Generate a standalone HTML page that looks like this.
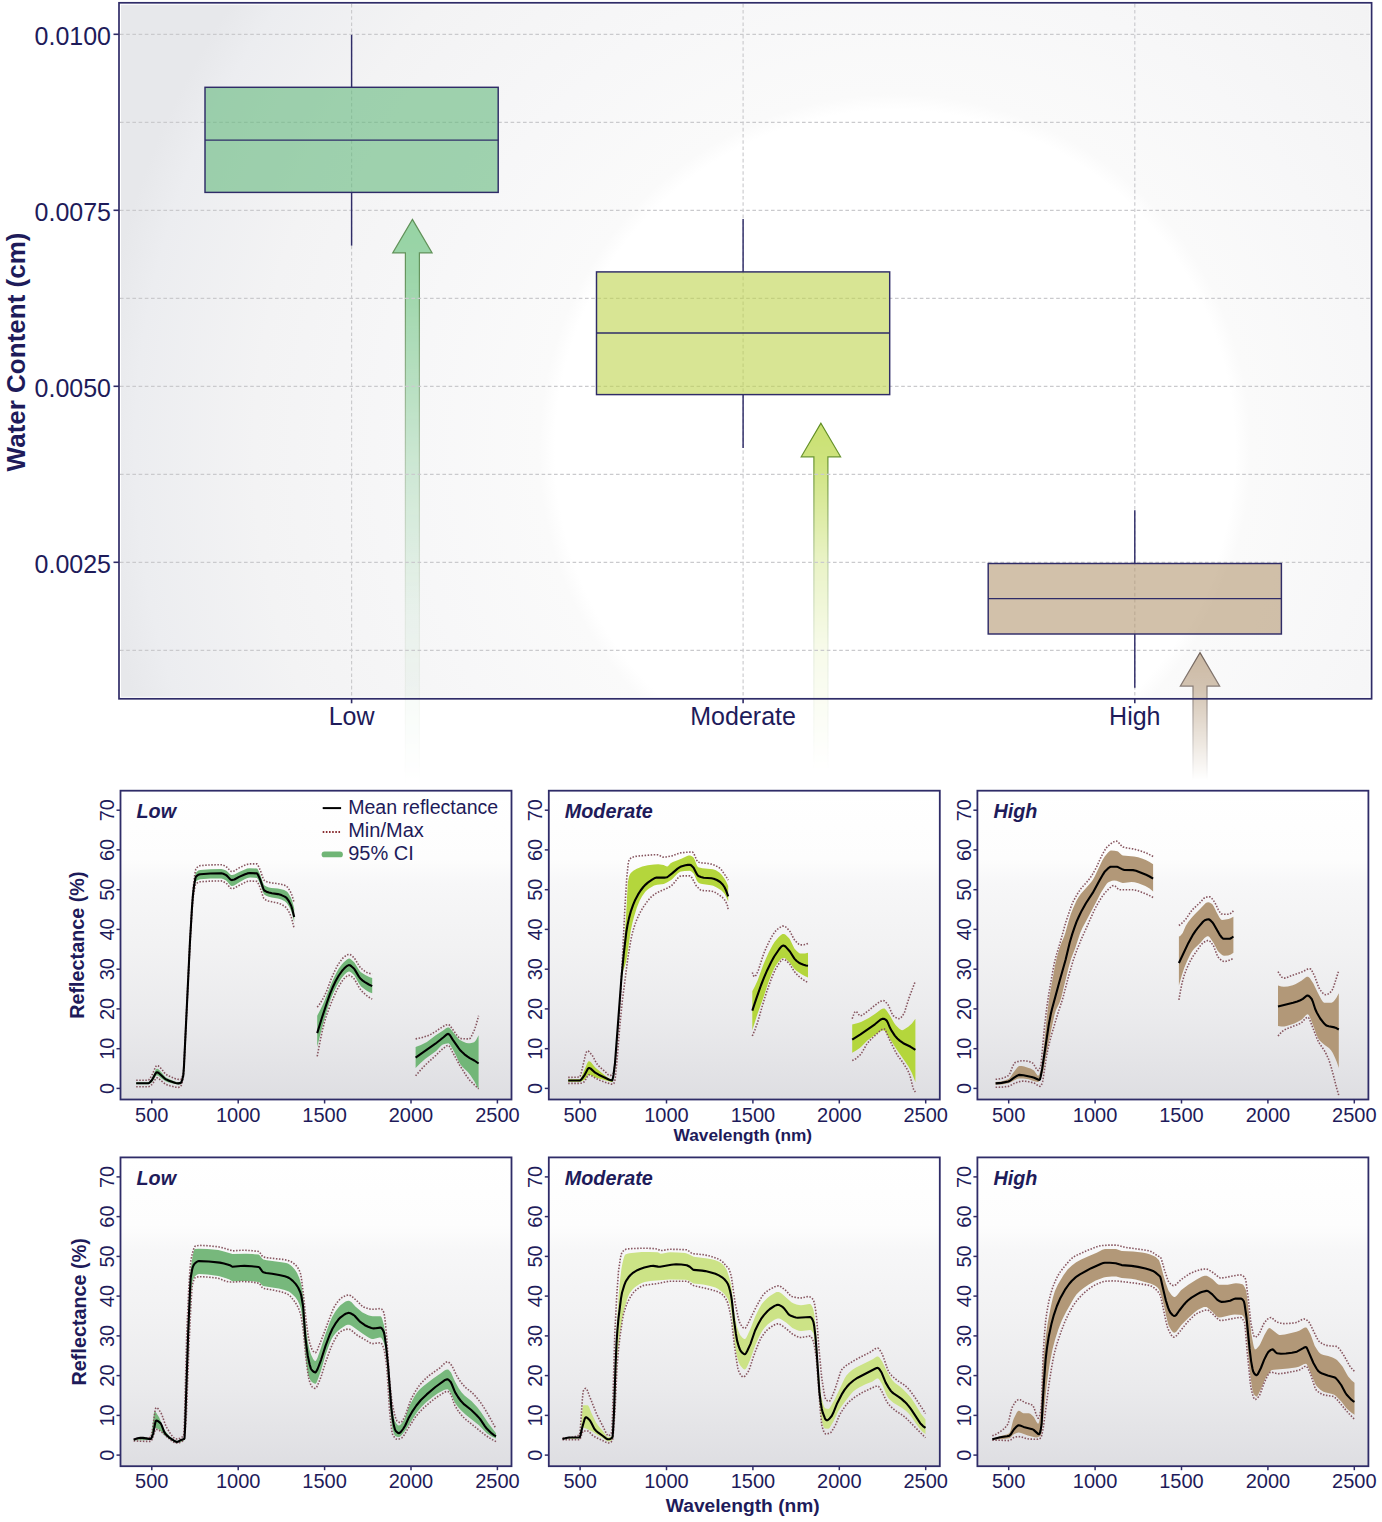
<!DOCTYPE html>
<html><head><meta charset="utf-8"><style>
html,body{margin:0;padding:0;background:#fff;}
svg{display:block;font-family:"Liberation Sans", sans-serif;}
</style></head><body>
<svg width="1382" height="1522" viewBox="0 0 1382 1522">
<defs>
<radialGradient id="bgTop" gradientUnits="userSpaceOnUse" cx="895" cy="450" r="800">
  <stop offset="0" stop-color="#ffffff"/>
  <stop offset="0.425" stop-color="#ffffff"/>
  <stop offset="0.445" stop-color="#fafafa"/>
  <stop offset="0.6" stop-color="#f7f7f8"/>
  <stop offset="0.8" stop-color="#f3f3f4"/>
  <stop offset="0.95" stop-color="#ecedf0"/>
  <stop offset="1" stop-color="#e7e8eb"/>
</radialGradient>
<linearGradient id="bgBot" x1="0" y1="0" x2="0" y2="1">
  <stop offset="0" stop-color="#ffffff"/>
  <stop offset="0.22" stop-color="#fdfdfd"/>
  <stop offset="0.30" stop-color="#f7f7f8"/>
  <stop offset="0.5" stop-color="#f2f2f3"/>
  <stop offset="0.75" stop-color="#eaeaec"/>
  <stop offset="1" stop-color="#dedee2"/>
</linearGradient>
<linearGradient id="fadeG" gradientUnits="userSpaceOnUse" x1="0" y1="215" x2="0" y2="785">
  <stop offset="0" stop-color="#fff" stop-opacity="1"/>
  <stop offset="0.1" stop-color="#fff" stop-opacity="0.95"/>
  <stop offset="0.45" stop-color="#fff" stop-opacity="0.42"/>
  <stop offset="0.7" stop-color="#fff" stop-opacity="0.14"/>
  <stop offset="1" stop-color="#fff" stop-opacity="0"/>
</linearGradient>
<mask id="fadeM" maskUnits="userSpaceOnUse" x="0" y="0" width="1382" height="800">
  <rect x="0" y="215" width="1382" height="570" fill="url(#fadeG)"/>
</mask>
<linearGradient id="fadeY" gradientUnits="userSpaceOnUse" x1="0" y1="420" x2="0" y2="770">
  <stop offset="0" stop-color="#fff" stop-opacity="1"/>
  <stop offset="0.12" stop-color="#fff" stop-opacity="0.9"/>
  <stop offset="0.4" stop-color="#fff" stop-opacity="0.4"/>
  <stop offset="0.65" stop-color="#fff" stop-opacity="0.15"/>
  <stop offset="1" stop-color="#fff" stop-opacity="0"/>
</linearGradient>
<mask id="fadeMY" maskUnits="userSpaceOnUse" x="0" y="0" width="1382" height="800">
  <rect x="0" y="420" width="1382" height="350" fill="url(#fadeY)"/>
</mask>
<linearGradient id="fadeB" gradientUnits="userSpaceOnUse" x1="0" y1="650" x2="0" y2="780">
  <stop offset="0" stop-color="#fff" stop-opacity="1"/>
  <stop offset="0.3" stop-color="#fff" stop-opacity="0.8"/>
  <stop offset="1" stop-color="#fff" stop-opacity="0"/>
</linearGradient>
<mask id="fadeMB" maskUnits="userSpaceOnUse" x="0" y="0" width="1382" height="800">
  <rect x="0" y="650" width="1382" height="130" fill="url(#fadeB)"/>
</mask>
<clipPath id="clipTop"><rect x="121.0" y="4.8" width="1248.6" height="692.0"/></clipPath><clipPath id="clip00"><rect x="120.5" y="790.7" width="391.0" height="308.8"/></clipPath><clipPath id="clip01"><rect x="548.8" y="790.7" width="391.0" height="308.8"/></clipPath><clipPath id="clip02"><rect x="977.4" y="790.7" width="391.0" height="308.8"/></clipPath><clipPath id="clip10"><rect x="120.5" y="1157.4" width="391.0" height="308.8"/></clipPath><clipPath id="clip11"><rect x="548.8" y="1157.4" width="391.0" height="308.8"/></clipPath><clipPath id="clip12"><rect x="977.4" y="1157.4" width="391.0" height="308.8"/></clipPath></defs>
<rect width="1382" height="1522" fill="#fff"/>
<rect x="121.0" y="4.8" width="1248.6" height="692.0" fill="url(#bgTop)"/>
<g mask="url(#fadeM)"><path d="M412.4,219.4 L432.09999999999997,252.9 L419.4,252.9 L419.4,800 L405.4,800 L405.4,252.9 L392.7,252.9 Z" fill="#96d3a4" stroke="#5d8f55" stroke-width="1.2" stroke-linejoin="miter"/></g>
<g mask="url(#fadeMY)"><path d="M820.9,423.3 L840.6,456.8 L827.9,456.8 L827.9,800 L813.9,800 L813.9,456.8 L801.1999999999999,456.8 Z" fill="#c9e070" stroke="#5b8a1c" stroke-width="1.2" stroke-linejoin="miter"/></g>
<g mask="url(#fadeMB)"><path d="M1200.0,652.6 L1219.7,686.1 L1207.0,686.1 L1207.0,800 L1193.0,800 L1193.0,686.1 L1180.3,686.1 Z" fill="#c9b6a0" stroke="#6e6058" stroke-width="1.2" stroke-linejoin="miter"/></g>
<line x1="120.0" y1="34.3" x2="1370.6" y2="34.3" stroke="#cacacd" stroke-width="1.15" stroke-dasharray="3.6 2.6"/>
<line x1="120.0" y1="122.3" x2="1370.6" y2="122.3" stroke="#cacacd" stroke-width="1.15" stroke-dasharray="3.6 2.6"/>
<line x1="120.0" y1="210.3" x2="1370.6" y2="210.3" stroke="#cacacd" stroke-width="1.15" stroke-dasharray="3.6 2.6"/>
<line x1="120.0" y1="298.3" x2="1370.6" y2="298.3" stroke="#cacacd" stroke-width="1.15" stroke-dasharray="3.6 2.6"/>
<line x1="120.0" y1="386.3" x2="1370.6" y2="386.3" stroke="#cacacd" stroke-width="1.15" stroke-dasharray="3.6 2.6"/>
<line x1="120.0" y1="474.3" x2="1370.6" y2="474.3" stroke="#cacacd" stroke-width="1.15" stroke-dasharray="3.6 2.6"/>
<line x1="120.0" y1="562.3" x2="1370.6" y2="562.3" stroke="#cacacd" stroke-width="1.15" stroke-dasharray="3.6 2.6"/>
<line x1="120.0" y1="650.3" x2="1370.6" y2="650.3" stroke="#cacacd" stroke-width="1.15" stroke-dasharray="3.6 2.6"/>
<line x1="351.6" y1="3.8" x2="351.6" y2="697.8" stroke="#cacacd" stroke-width="1.15" stroke-dasharray="3.6 2.6"/>
<line x1="743.1" y1="3.8" x2="743.1" y2="697.8" stroke="#cacacd" stroke-width="1.15" stroke-dasharray="3.6 2.6"/>
<line x1="1134.8" y1="3.8" x2="1134.8" y2="697.8" stroke="#cacacd" stroke-width="1.15" stroke-dasharray="3.6 2.6"/>
<line x1="351.6" y1="34.8" x2="351.6" y2="87.3" stroke="#2f2c68" stroke-width="1.45"/>
<line x1="351.6" y1="192.4" x2="351.6" y2="245.6" stroke="#2f2c68" stroke-width="1.45"/>
<rect x="205.00000000000003" y="87.3" width="293.2" height="105.10000000000001" fill="#64b97d" fill-opacity="0.6" stroke="#2f2c68" stroke-width="1.45"/>
<line x1="205.00000000000003" y1="140.1" x2="498.20000000000005" y2="140.1" stroke="#2f2c68" stroke-width="1.45"/>
<line x1="743.1" y1="219.1" x2="743.1" y2="271.9" stroke="#2f2c68" stroke-width="1.45"/>
<line x1="743.1" y1="394.6" x2="743.1" y2="447.9" stroke="#2f2c68" stroke-width="1.45"/>
<rect x="596.5" y="271.9" width="293.2" height="122.70000000000005" fill="#bed44d" fill-opacity="0.6" stroke="#2f2c68" stroke-width="1.45"/>
<line x1="596.5" y1="333.0" x2="889.7" y2="333.0" stroke="#2f2c68" stroke-width="1.45"/>
<line x1="1134.8" y1="510.3" x2="1134.8" y2="563.5" stroke="#2f2c68" stroke-width="1.45"/>
<line x1="1134.8" y1="634.0" x2="1134.8" y2="687.7" stroke="#2f2c68" stroke-width="1.45"/>
<rect x="988.1999999999999" y="563.5" width="293.2" height="70.5" fill="#b49871" fill-opacity="0.6" stroke="#2f2c68" stroke-width="1.45"/>
<line x1="988.1999999999999" y1="598.6" x2="1281.3999999999999" y2="598.6" stroke="#2f2c68" stroke-width="1.45"/>
<rect x="119.0" y="2.8" width="1252.6" height="696.0" fill="none" stroke="#2f2c68" stroke-width="1.7"/>
<line x1="113.5" y1="34.3" x2="119.0" y2="34.3" stroke="#2f2c68" stroke-width="1.6"/>
<text x="111.0" y="45.3" text-anchor="end" font-size="25" fill="#1e1b5a">0.0100</text>
<line x1="113.5" y1="210.3" x2="119.0" y2="210.3" stroke="#2f2c68" stroke-width="1.6"/>
<text x="111.0" y="221.3" text-anchor="end" font-size="25" fill="#1e1b5a">0.0075</text>
<line x1="113.5" y1="386.3" x2="119.0" y2="386.3" stroke="#2f2c68" stroke-width="1.6"/>
<text x="111.0" y="397.3" text-anchor="end" font-size="25" fill="#1e1b5a">0.0050</text>
<line x1="113.5" y1="562.3" x2="119.0" y2="562.3" stroke="#2f2c68" stroke-width="1.6"/>
<text x="111.0" y="573.3" text-anchor="end" font-size="25" fill="#1e1b5a">0.0025</text>
<line x1="351.6" y1="698.8" x2="351.6" y2="703.3" stroke="#2f2c68" stroke-width="1.6"/>
<text x="351.6" y="724.6" text-anchor="middle" font-size="25" fill="#1e1b5a">Low</text>
<line x1="743.1" y1="698.8" x2="743.1" y2="703.3" stroke="#2f2c68" stroke-width="1.6"/>
<text x="743.1" y="724.6" text-anchor="middle" font-size="25" fill="#1e1b5a">Moderate</text>
<line x1="1134.8" y1="698.8" x2="1134.8" y2="703.3" stroke="#2f2c68" stroke-width="1.6"/>
<text x="1134.8" y="724.6" text-anchor="middle" font-size="25" fill="#1e1b5a">High</text>
<text transform="translate(24.7 352) rotate(-90)" text-anchor="middle" font-size="26" font-weight="bold" fill="#1e1b5a">Water Content (cm)</text>
<rect x="120.5" y="790.7" width="391.0" height="308.8" fill="url(#bgBot)"/>
<g clip-path="url(#clip00)">
<path d="M136.2,1082.2 148.2,1082.2 149.0,1081.9 150.0,1080.9 152.2,1077.7 155.5,1070.3 156.2,1069.2 157.0,1068.7 158.0,1069.0 159.0,1069.8 162.2,1073.3 164.7,1076.3 166.0,1077.4 169.0,1079.1 174.8,1081.4 176.5,1082.0 177.8,1082.2 180.5,1081.8 181.3,1081.1 182.3,1078.5 183.3,1074.3 184.0,1064.9 190.0,939.7 192.3,901.8 193.3,889.7 194.5,879.4 195.5,873.8 195.8,873.1 196.5,872.1 198.3,870.6 200.3,869.9 210.3,869.2 221.3,869.0 223.3,869.5 226.1,870.6 227.3,871.5 230.3,874.4 231.4,874.9 232.1,875.0 234.4,874.4 239.1,871.9 244.9,869.4 247.1,868.6 249.6,868.2 256.9,868.4 257.4,868.8 258.1,870.0 260.4,875.0 262.9,882.6 264.2,885.2 266.4,886.6 268.9,887.5 271.4,888.0 277.7,888.6 281.2,889.2 284.2,890.1 286.4,891.2 287.4,892.1 288.7,893.8 291.2,898.2 292.4,901.8 294.2,908.3 L294.2,922.0 292.4,914.8 291.2,910.9 288.9,906.2 286.9,903.2 285.9,902.2 284.7,901.3 281.2,899.6 277.9,898.6 271.7,897.5 268.7,896.8 266.2,895.8 264.2,894.6 262.9,892.1 260.4,884.6 258.1,879.6 257.4,878.4 256.9,878.0 254.4,877.7 250.1,877.6 247.6,878.0 244.6,879.3 238.6,882.7 234.6,885.3 233.4,885.8 232.1,886.1 231.4,886.0 230.3,885.3 227.1,881.5 226.1,880.6 223.1,879.0 221.3,878.4 210.6,878.6 200.3,879.3 198.0,879.9 196.0,881.2 195.5,882.0 195.0,883.8 193.5,892.7 192.8,899.4 192.0,909.2 189.8,947.2 184.0,1066.9 183.3,1076.3 182.0,1081.6 181.3,1083.5 180.5,1084.2 178.0,1084.6 175.0,1084.1 168.8,1082.4 165.7,1081.3 161.2,1078.3 158.5,1075.8 157.7,1075.4 157.0,1075.2 156.2,1075.6 155.5,1076.4 152.5,1081.5 150.5,1083.2 149.2,1084.0 148.2,1084.2 136.2,1084.2 Z" fill="#72b678" stroke="none"/>
<path d="M317.2,1015.8 320.7,1009.1 324.2,1001.6 331.0,984.3 334.5,976.4 336.8,971.9 338.8,968.5 341.8,964.4 343.8,962.3 347.3,959.3 348.3,958.7 349.1,958.6 350.1,958.8 351.1,959.5 354.4,962.6 358.9,969.7 360.6,971.9 362.9,973.6 365.7,975.3 369.2,977.0 372.2,978.1 L372.2,993.3 369.4,992.2 366.4,990.5 363.7,988.6 361.1,986.4 359.1,983.8 354.4,975.6 353.4,974.5 350.9,972.3 349.3,971.6 348.1,971.8 346.8,972.6 344.3,974.8 341.3,978.6 337.0,985.5 333.8,991.9 330.8,999.1 328.0,1007.3 323.7,1021.7 320.5,1033.7 317.2,1046.9 Z" fill="#72b678" stroke="none"/>
<path d="M415.6,1046.9 420.9,1044.9 426.9,1041.9 435.4,1035.6 443.5,1030.3 446.0,1028.3 447.7,1027.4 449.0,1027.6 450.2,1028.6 457.8,1038.0 459.5,1039.8 462.8,1041.6 466.3,1042.9 468.3,1043.3 470.1,1043.3 472.3,1042.8 474.1,1042.2 475.1,1041.3 476.1,1040.0 478.6,1035.3 L478.6,1089.6 474.6,1081.8 470.6,1075.5 467.8,1072.1 462.3,1066.7 460.0,1063.8 458.3,1060.6 454.5,1052.6 451.0,1046.2 449.7,1044.3 448.5,1043.3 447.2,1043.4 445.5,1043.7 443.0,1044.6 442.0,1045.1 440.4,1046.5 436.2,1051.1 425.1,1059.0 420.6,1063.0 415.6,1067.9 Z" fill="#72b678" stroke="none"/>
<path d="M136.2,1080.2 148.2,1080.2 148.7,1080.0 150.0,1078.6 152.5,1074.1 155.7,1066.6 156.5,1065.6 157.0,1065.4 158.2,1065.8 159.5,1066.9 162.0,1069.5 164.7,1073.2 166.0,1074.4 168.8,1076.0 175.3,1078.7 177.5,1079.3 180.8,1079.5 181.3,1079.1 181.8,1078.2 182.8,1075.3 183.3,1073.3 183.5,1071.3 184.0,1064.2 190.0,938.5 192.3,899.8 193.3,887.2 194.8,874.2 195.8,869.1 196.8,867.7 198.5,866.2 200.3,865.6 210.3,864.9 221.3,864.7 223.3,865.2 226.1,866.5 227.3,867.6 230.3,870.9 231.4,871.5 232.1,871.6 234.1,871.0 239.1,867.9 244.6,865.3 246.9,864.4 249.6,863.9 256.9,863.9 257.4,864.3 258.1,865.5 260.4,870.5 262.9,877.9 263.7,879.6 264.2,880.3 266.2,881.5 268.7,882.3 271.4,882.9 277.7,883.6 281.2,884.3 284.2,885.1 286.4,886.2 287.4,887.1 288.7,888.8 291.2,893.2 292.4,896.7 294.2,902.9" fill="none" stroke="#86555f" stroke-width="1.6" stroke-dasharray="1.5 1.55"/>
<path d="M136.2,1086.7 148.2,1086.7 149.2,1086.5 150.5,1085.7 152.5,1084.0 155.5,1079.0 156.2,1078.1 157.0,1077.8 157.7,1078.0 158.7,1078.6 161.2,1080.8 165.5,1084.2 167.5,1085.1 170.0,1085.8 175.8,1087.2 178.5,1087.4 179.5,1087.1 180.8,1086.4 181.8,1084.2 183.3,1077.2 184.0,1067.6 189.8,948.4 192.0,911.2 192.8,901.7 193.5,895.2 195.0,886.3 195.5,884.5 196.0,883.7 198.0,882.4 200.3,881.8 210.6,881.1 221.3,880.9 223.1,881.5 226.1,883.1 227.3,884.3 230.3,887.9 231.4,888.6 232.1,888.7 233.4,888.5 234.6,888.0 238.6,885.7 244.6,882.6 247.6,881.3 250.4,881.0 256.9,881.4 257.4,881.9 258.1,883.1 260.4,888.3 262.9,896.2 263.7,898.1 264.2,898.9 265.9,900.0 268.2,900.9 271.7,901.8 277.7,903.0 280.4,903.9 283.9,905.8 285.7,907.2 286.7,908.2 288.9,911.8 291.2,916.9 292.4,921.2 294.2,928.8" fill="none" stroke="#86555f" stroke-width="1.6" stroke-dasharray="1.5 1.55"/>
<path d="M317.2,1007.1 319.0,1005.1 320.7,1002.6 324.7,995.5 326.5,991.5 331.3,978.7 335.0,970.4 337.5,965.5 340.1,961.6 342.6,958.4 344.3,956.8 346.8,955.1 348.1,954.5 349.1,954.3 350.1,954.5 351.4,955.3 354.4,958.0 359.4,966.3 360.4,967.6 362.2,969.2 364.7,971.2 366.9,972.5 369.9,973.5 372.2,973.8" fill="none" stroke="#86555f" stroke-width="1.6" stroke-dasharray="1.5 1.55"/>
<path d="M317.2,1056.3 320.0,1041.5 322.5,1029.9 324.7,1021.2 327.2,1013.3 331.5,1002.2 336.3,991.2 338.3,987.4 340.8,983.1 342.6,980.4 344.1,978.6 346.8,976.2 348.3,975.4 349.1,975.3 349.8,975.4 351.4,976.3 353.6,978.2 354.6,979.4 359.4,988.0 361.4,990.7 363.7,993.0 366.4,995.3 369.4,997.5 372.2,999.1" fill="none" stroke="#86555f" stroke-width="1.6" stroke-dasharray="1.5 1.55"/>
<path d="M415.6,1038.9 421.4,1037.8 427.9,1035.7 431.2,1034.1 436.2,1031.1 442.5,1026.8 446.2,1024.9 448.2,1024.5 449.0,1024.8 450.0,1025.7 457.3,1035.9 459.3,1038.0 460.3,1038.5 461.5,1038.6 466.6,1038.9 469.6,1038.8 470.3,1038.2 471.3,1036.6 474.3,1030.1 476.3,1024.2 478.6,1015.8" fill="none" stroke="#86555f" stroke-width="1.6" stroke-dasharray="1.5 1.55"/>
<path d="M415.6,1075.8 420.6,1070.0 425.6,1064.7 435.9,1055.3 441.2,1050.1 446.2,1046.1 447.5,1045.5 448.5,1045.4 449.2,1046.0 450.2,1047.4 452.7,1052.4 459.5,1064.8 466.6,1076.2 470.1,1080.7 478.6,1088.9" fill="none" stroke="#86555f" stroke-width="1.6" stroke-dasharray="1.5 1.55"/>
<path d="M136.2,1083.2 148.2,1083.2 149.0,1083.0 150.2,1082.0 152.2,1079.7 155.5,1073.6 156.2,1072.6 157.0,1072.2 157.7,1072.4 158.7,1073.0 164.5,1078.3 166.0,1079.4 169.0,1080.8 175.5,1083.0 178.3,1083.4 180.8,1082.9 181.5,1081.8 182.3,1079.6 183.3,1075.3 184.0,1065.9 190.0,941.0 192.0,907.4 193.0,894.5 194.0,886.2 195.3,878.6 195.8,877.0 196.3,876.4 198.3,874.8 200.3,874.2 210.3,873.5 221.3,873.3 223.3,873.8 226.1,875.1 227.3,876.1 230.3,879.4 231.4,880.0 232.1,880.1 234.4,879.5 239.1,876.9 245.1,874.2 247.4,873.4 250.1,873.0 256.9,873.4 257.4,873.8 258.1,875.0 260.1,879.4 263.2,888.4 263.9,889.9 264.4,890.5 266.4,891.7 268.9,892.5 271.9,893.2 277.9,894.1 281.4,895.1 284.7,896.6 285.9,897.4 286.9,898.3 288.9,901.2 291.2,905.8 292.4,909.8 294.2,916.9" fill="none" stroke="#000" stroke-width="2.1" stroke-linejoin="round"/>
<path d="M317.2,1033.1 321.7,1018.5 327.2,1001.8 330.0,993.9 332.5,987.8 335.8,980.8 338.8,975.5 342.6,970.2 344.1,968.6 346.3,966.5 347.6,965.6 348.8,965.1 349.8,965.2 351.1,966.0 353.6,968.2 354.6,969.4 358.9,976.6 360.6,978.8 362.7,980.6 364.9,982.1 368.9,984.5 372.2,986.1" fill="none" stroke="#000" stroke-width="2.1" stroke-linejoin="round"/>
<path d="M415.6,1057.7 435.4,1043.7 443.5,1037.2 446.5,1034.6 447.5,1034.0 448.2,1033.9 449.0,1034.2 450.0,1035.2 452.7,1039.6 458.3,1047.7 460.0,1050.0 461.8,1051.8 464.5,1054.3 467.6,1056.6 469.8,1058.1 474.3,1060.5 478.6,1063.5" fill="none" stroke="#000" stroke-width="2.1" stroke-linejoin="round"/>
</g>
<rect x="120.5" y="790.7" width="391.0" height="308.8" fill="none" stroke="#2f2c68" stroke-width="1.8"/>
<line x1="116.5" y1="1088.4" x2="120.5" y2="1088.4" stroke="#2f2c68" stroke-width="1.5"/>
<text transform="translate(113.7 1088.4) rotate(-90)" text-anchor="middle" font-size="20" fill="#1e1b5a">0</text>
<line x1="116.5" y1="1048.7" x2="120.5" y2="1048.7" stroke="#2f2c68" stroke-width="1.5"/>
<text transform="translate(113.7 1048.7) rotate(-90)" text-anchor="middle" font-size="20" fill="#1e1b5a">10</text>
<line x1="116.5" y1="1008.9" x2="120.5" y2="1008.9" stroke="#2f2c68" stroke-width="1.5"/>
<text transform="translate(113.7 1008.9) rotate(-90)" text-anchor="middle" font-size="20" fill="#1e1b5a">20</text>
<line x1="116.5" y1="969.2" x2="120.5" y2="969.2" stroke="#2f2c68" stroke-width="1.5"/>
<text transform="translate(113.7 969.2) rotate(-90)" text-anchor="middle" font-size="20" fill="#1e1b5a">30</text>
<line x1="116.5" y1="929.4" x2="120.5" y2="929.4" stroke="#2f2c68" stroke-width="1.5"/>
<text transform="translate(113.7 929.4) rotate(-90)" text-anchor="middle" font-size="20" fill="#1e1b5a">40</text>
<line x1="116.5" y1="889.7" x2="120.5" y2="889.7" stroke="#2f2c68" stroke-width="1.5"/>
<text transform="translate(113.7 889.7) rotate(-90)" text-anchor="middle" font-size="20" fill="#1e1b5a">50</text>
<line x1="116.5" y1="849.9" x2="120.5" y2="849.9" stroke="#2f2c68" stroke-width="1.5"/>
<text transform="translate(113.7 849.9) rotate(-90)" text-anchor="middle" font-size="20" fill="#1e1b5a">60</text>
<line x1="116.5" y1="810.2" x2="120.5" y2="810.2" stroke="#2f2c68" stroke-width="1.5"/>
<text transform="translate(113.7 810.2) rotate(-90)" text-anchor="middle" font-size="20" fill="#1e1b5a">70</text>
<line x1="151.8" y1="1099.5" x2="151.8" y2="1103.5" stroke="#2f2c68" stroke-width="1.5"/>
<text x="151.8" y="1121.7" text-anchor="middle" font-size="20" fill="#1e1b5a">500</text>
<line x1="238.2" y1="1099.5" x2="238.2" y2="1103.5" stroke="#2f2c68" stroke-width="1.5"/>
<text x="238.2" y="1121.7" text-anchor="middle" font-size="20" fill="#1e1b5a">1000</text>
<line x1="324.6" y1="1099.5" x2="324.6" y2="1103.5" stroke="#2f2c68" stroke-width="1.5"/>
<text x="324.6" y="1121.7" text-anchor="middle" font-size="20" fill="#1e1b5a">1500</text>
<line x1="411.0" y1="1099.5" x2="411.0" y2="1103.5" stroke="#2f2c68" stroke-width="1.5"/>
<text x="411.0" y="1121.7" text-anchor="middle" font-size="20" fill="#1e1b5a">2000</text>
<line x1="497.4" y1="1099.5" x2="497.4" y2="1103.5" stroke="#2f2c68" stroke-width="1.5"/>
<text x="497.4" y="1121.7" text-anchor="middle" font-size="20" fill="#1e1b5a">2500</text>
<text x="136.5" y="818.2" font-size="19.8" font-weight="bold" font-style="italic" fill="#1e1b5a">Low</text>
<text transform="translate(84.2 945.1) rotate(-90)" text-anchor="middle" font-size="19.8" font-weight="bold" fill="#1e1b5a">Reflectance (%)</text>
<rect x="548.8" y="790.7" width="391.0" height="308.8" fill="url(#bgBot)"/>
<g clip-path="url(#clip01)">
<path d="M568.2,1079.3 579.5,1079.3 580.2,1079.0 581.0,1078.0 581.7,1076.4 587.2,1063.2 588.2,1061.6 589.0,1061.2 590.0,1061.5 591.0,1062.2 595.0,1067.2 596.7,1068.8 607.8,1077.7 609.3,1078.6 610.5,1078.9 612.0,1079.0 612.3,1078.9 612.5,1078.4 613.3,1075.0 614.5,1065.8 615.5,1054.9 626.0,917.0 627.8,882.5 629.0,876.5 629.8,874.5 630.8,873.1 633.3,870.7 636.8,868.8 642.3,866.6 647.8,865.2 654.1,864.4 658.3,864.2 663.6,865.0 666.1,866.3 667.4,866.4 668.4,865.7 670.6,863.3 672.9,862.0 681.4,858.7 687.1,855.9 688.6,855.5 690.1,855.4 691.9,856.2 693.6,857.6 694.6,859.6 696.9,865.4 697.7,866.7 698.2,867.2 700.2,867.8 702.4,868.2 712.9,869.2 715.9,870.3 719.4,872.5 721.7,874.7 724.4,878.4 726.2,881.6 728.2,886.1 L728.2,901.5 726.2,896.9 724.7,894.1 723.2,892.2 721.2,890.3 716.7,887.4 713.2,885.8 710.9,885.3 702.2,884.0 699.9,883.4 698.2,882.6 696.9,880.8 694.6,875.5 693.6,873.6 691.4,871.4 689.9,870.7 684.6,871.0 681.1,871.5 680.1,871.8 677.6,873.6 671.9,879.4 666.9,882.6 663.8,883.9 657.1,884.7 654.1,885.6 651.6,886.9 649.1,888.4 647.1,889.9 645.3,891.7 642.1,896.2 639.6,900.8 636.8,907.8 634.1,916.4 632.3,923.4 630.8,930.6 627.5,953.2 626.3,960.5 625.3,964.5 623.0,971.3 621.8,976.9 620.8,986.4 619.3,1008.9 615.0,1065.3 613.5,1076.8 612.5,1081.5 612.3,1081.9 611.5,1081.9 600.0,1078.8 595.5,1077.4 590.7,1075.1 589.0,1074.8 588.2,1075.1 587.5,1075.8 584.5,1079.7 582.5,1080.8 581.0,1081.5 579.7,1081.7 568.2,1081.7 Z" fill="#b4d63c" stroke="none"/>
<path d="M752.3,991.2 754.8,986.6 757.6,980.5 763.1,965.3 766.4,957.4 768.9,952.0 772.5,945.3 774.7,941.7 778.5,937.2 781.0,934.9 782.5,934.1 784.1,934.1 785.6,934.8 787.3,936.4 789.3,938.6 790.1,939.7 794.4,948.4 796.7,951.0 798.7,952.7 799.9,953.4 800.9,953.5 805.0,953.4 808.0,952.8 L808.0,977.4 805.2,976.2 802.0,974.5 798.9,972.6 796.4,970.7 794.1,968.6 789.6,962.6 785.3,958.6 784.1,958.0 783.0,957.9 782.0,958.3 780.8,959.2 778.8,961.6 775.2,966.6 773.2,970.5 771.0,975.8 768.2,982.9 763.4,997.8 757.3,1014.5 752.3,1030.2 Z" fill="#b4d63c" stroke="none"/>
<path d="M852.2,1024.5 858.0,1023.0 861.0,1022.0 863.5,1020.8 868.8,1017.9 874.9,1014.1 880.9,1009.6 882.4,1008.8 883.7,1008.5 884.4,1008.6 884.9,1008.8 886.7,1010.8 890.2,1016.0 894.0,1022.7 895.8,1025.3 899.3,1028.8 901.3,1030.1 902.3,1030.2 903.6,1029.8 908.3,1026.7 911.9,1023.4 915.4,1018.7 L915.4,1082.3 911.9,1073.1 908.6,1066.8 902.8,1058.2 896.3,1049.0 885.9,1032.4 884.9,1031.1 883.9,1030.4 883.2,1030.2 881.9,1030.4 879.1,1031.9 867.6,1040.3 861.5,1046.4 859.8,1047.9 855.7,1050.7 852.2,1052.7 Z" fill="#b4d63c" stroke="none"/>
<path d="M568.2,1077.4 577.2,1077.2 579.5,1077.0 580.0,1076.7 581.0,1073.8 585.7,1053.9 586.5,1051.8 587.2,1050.9 588.2,1051.1 589.2,1051.9 592.2,1055.3 593.5,1057.4 596.2,1062.9 598.0,1065.2 600.3,1067.5 604.8,1071.3 608.0,1074.6 609.5,1075.4 610.8,1075.4 611.8,1074.9 613.0,1074.0 613.5,1072.9 614.8,1066.1 616.3,1053.7 620.5,996.2 625.0,905.8 626.8,877.3 628.3,862.8 628.8,860.9 630.0,858.9 631.0,857.9 632.0,857.3 635.6,856.4 640.1,855.9 653.1,854.8 657.6,854.7 658.8,855.1 662.6,857.0 663.8,857.1 666.4,856.9 672.1,855.9 678.4,853.5 680.6,852.9 687.1,852.2 692.4,852.0 693.1,852.5 693.9,853.7 696.7,860.1 697.9,862.0 698.7,862.3 700.9,862.8 708.2,863.5 711.2,864.1 714.9,865.3 718.4,867.1 720.2,868.4 721.9,870.5 726.2,876.8 728.2,880.1" fill="none" stroke="#86555f" stroke-width="1.6" stroke-dasharray="1.5 1.55"/>
<path d="M568.2,1083.4 579.7,1083.4 581.0,1083.2 582.5,1082.7 584.0,1082.0 584.7,1081.3 587.7,1075.8 588.5,1075.0 589.0,1074.8 590.0,1074.9 591.0,1075.3 595.5,1078.2 599.7,1080.2 603.3,1081.6 609.3,1083.6 611.3,1084.1 613.0,1084.2 613.8,1083.5 614.5,1082.0 615.0,1079.8 615.5,1076.0 617.0,1060.9 619.8,1026.2 622.3,1001.0 628.0,956.9 631.0,939.1 632.3,933.3 634.1,927.1 636.1,921.3 638.3,916.1 640.6,911.6 643.1,907.4 647.1,901.7 650.1,898.0 652.6,895.7 656.3,893.1 660.6,891.0 667.9,887.9 671.4,885.8 673.4,883.8 677.9,878.0 679.9,876.3 681.1,875.9 689.9,875.9 690.9,876.4 691.9,877.7 696.1,885.6 698.9,888.6 700.4,889.9 701.4,890.3 702.4,890.5 710.7,891.0 713.4,891.6 716.7,893.2 722.2,897.2 724.7,900.0 726.7,903.5 727.4,905.4 728.2,909.8" fill="none" stroke="#86555f" stroke-width="1.6" stroke-dasharray="1.5 1.55"/>
<path d="M752.3,972.4 753.3,975.3 754.1,976.5 754.3,976.7 754.8,976.6 755.8,975.5 757.6,972.0 758.6,969.5 763.4,954.5 766.2,947.7 768.7,942.4 772.2,935.9 774.7,932.0 776.0,930.6 778.0,928.8 781.0,926.7 782.5,926.1 784.1,926.1 785.6,926.8 787.1,928.2 789.3,930.6 790.1,931.6 793.4,938.0 794.6,940.1 797.2,942.8 798.9,944.3 800.4,944.9 803.7,944.8 806.0,944.3 808.0,943.4" fill="none" stroke="#86555f" stroke-width="1.6" stroke-dasharray="1.5 1.55"/>
<path d="M752.3,1036.0 754.8,1030.1 757.6,1022.4 762.6,1004.9 765.9,994.2 768.2,987.4 771.7,977.8 773.7,972.9 775.5,969.2 779.3,963.0 781.3,960.4 782.5,959.5 783.6,959.3 784.8,959.7 786.3,960.7 789.9,964.2 794.4,971.6 797.4,975.0 799.9,977.3 802.7,979.4 805.5,981.2 808.0,982.5" fill="none" stroke="#86555f" stroke-width="1.6" stroke-dasharray="1.5 1.55"/>
<path d="M852.2,1018.7 854.0,1013.6 854.7,1012.2 855.5,1011.5 856.0,1011.4 856.7,1011.9 859.5,1015.6 860.3,1015.8 861.5,1015.5 864.0,1014.0 868.8,1010.3 873.4,1006.5 878.9,1002.4 881.2,1001.1 883.2,1000.6 884.2,1000.8 885.2,1001.5 888.0,1004.7 889.2,1007.1 892.0,1013.7 893.2,1015.7 895.5,1017.4 897.3,1018.3 899.0,1018.7 900.0,1018.5 901.0,1017.6 902.3,1016.1 903.8,1013.8 904.6,1012.1 909.1,997.6 915.4,981.0" fill="none" stroke="#86555f" stroke-width="1.6" stroke-dasharray="1.5 1.55"/>
<path d="M852.2,1060.6 854.0,1059.9 856.0,1058.6 860.5,1054.5 862.3,1051.9 866.8,1044.1 868.8,1041.6 871.1,1039.2 880.7,1030.2 882.7,1029.1 883.7,1028.8 884.4,1028.9 885.2,1029.8 885.9,1031.2 889.0,1038.6 895.8,1052.5 898.0,1056.0 903.1,1062.8 906.3,1067.9 908.1,1071.1 909.9,1075.3 913.1,1088.2 914.1,1090.4 915.4,1092.0" fill="none" stroke="#86555f" stroke-width="1.6" stroke-dasharray="1.5 1.55"/>
<path d="M568.2,1080.5 579.7,1080.5 580.5,1080.2 581.7,1079.0 584.2,1075.7 587.5,1069.4 588.2,1068.4 589.0,1068.0 589.7,1068.1 590.7,1068.6 595.2,1072.7 598.7,1074.7 609.3,1079.8 612.0,1080.5 612.3,1080.4 612.5,1079.9 613.5,1075.0 615.0,1063.0 621.5,977.1 623.8,953.7 626.3,932.2 627.5,925.0 629.0,918.1 631.0,910.8 633.1,904.9 635.3,899.7 638.1,894.4 640.6,890.5 643.3,887.0 645.6,884.6 647.8,882.6 652.1,879.6 654.3,878.3 656.6,877.6 664.4,877.6 666.9,877.3 668.1,876.5 672.1,873.4 677.6,868.6 679.9,867.1 681.1,866.5 685.4,865.3 687.9,864.9 689.9,864.8 690.6,865.0 691.4,865.5 693.6,867.8 696.9,874.2 697.7,875.3 698.4,876.0 700.9,877.0 703.7,877.7 711.4,878.3 713.7,878.7 716.9,880.0 720.2,882.0 722.4,884.2 724.4,887.0 726.2,890.8 728.2,896.4" fill="none" stroke="#000" stroke-width="2.1" stroke-linejoin="round"/>
<path d="M752.3,1010.7 756.3,998.6 761.1,985.0 763.9,977.9 767.2,970.2 771.2,962.0 774.2,956.5 779.3,949.0 781.5,946.4 782.5,945.8 783.6,945.6 784.6,945.9 785.8,946.9 789.9,951.5 794.4,958.6 796.4,960.7 798.4,962.3 800.4,963.5 803.5,964.8 806.0,965.5 808.0,965.8" fill="none" stroke="#000" stroke-width="2.1" stroke-linejoin="round"/>
<path d="M852.2,1039.7 860.5,1034.3 874.9,1024.3 880.4,1019.8 882.2,1018.9 883.7,1018.7 885.2,1019.4 886.7,1020.6 887.7,1022.4 890.0,1027.8 891.7,1030.9 894.8,1035.6 897.3,1038.5 900.0,1040.9 903.3,1043.2 910.6,1046.8 915.4,1049.8" fill="none" stroke="#000" stroke-width="2.1" stroke-linejoin="round"/>
</g>
<rect x="548.8" y="790.7" width="391.0" height="308.8" fill="none" stroke="#2f2c68" stroke-width="1.8"/>
<line x1="544.8" y1="1088.4" x2="548.8" y2="1088.4" stroke="#2f2c68" stroke-width="1.5"/>
<text transform="translate(542.0 1088.4) rotate(-90)" text-anchor="middle" font-size="20" fill="#1e1b5a">0</text>
<line x1="544.8" y1="1048.7" x2="548.8" y2="1048.7" stroke="#2f2c68" stroke-width="1.5"/>
<text transform="translate(542.0 1048.7) rotate(-90)" text-anchor="middle" font-size="20" fill="#1e1b5a">10</text>
<line x1="544.8" y1="1008.9" x2="548.8" y2="1008.9" stroke="#2f2c68" stroke-width="1.5"/>
<text transform="translate(542.0 1008.9) rotate(-90)" text-anchor="middle" font-size="20" fill="#1e1b5a">20</text>
<line x1="544.8" y1="969.2" x2="548.8" y2="969.2" stroke="#2f2c68" stroke-width="1.5"/>
<text transform="translate(542.0 969.2) rotate(-90)" text-anchor="middle" font-size="20" fill="#1e1b5a">30</text>
<line x1="544.8" y1="929.4" x2="548.8" y2="929.4" stroke="#2f2c68" stroke-width="1.5"/>
<text transform="translate(542.0 929.4) rotate(-90)" text-anchor="middle" font-size="20" fill="#1e1b5a">40</text>
<line x1="544.8" y1="889.7" x2="548.8" y2="889.7" stroke="#2f2c68" stroke-width="1.5"/>
<text transform="translate(542.0 889.7) rotate(-90)" text-anchor="middle" font-size="20" fill="#1e1b5a">50</text>
<line x1="544.8" y1="849.9" x2="548.8" y2="849.9" stroke="#2f2c68" stroke-width="1.5"/>
<text transform="translate(542.0 849.9) rotate(-90)" text-anchor="middle" font-size="20" fill="#1e1b5a">60</text>
<line x1="544.8" y1="810.2" x2="548.8" y2="810.2" stroke="#2f2c68" stroke-width="1.5"/>
<text transform="translate(542.0 810.2) rotate(-90)" text-anchor="middle" font-size="20" fill="#1e1b5a">70</text>
<line x1="580.1" y1="1099.5" x2="580.1" y2="1103.5" stroke="#2f2c68" stroke-width="1.5"/>
<text x="580.1" y="1121.7" text-anchor="middle" font-size="20" fill="#1e1b5a">500</text>
<line x1="666.5" y1="1099.5" x2="666.5" y2="1103.5" stroke="#2f2c68" stroke-width="1.5"/>
<text x="666.5" y="1121.7" text-anchor="middle" font-size="20" fill="#1e1b5a">1000</text>
<line x1="752.9" y1="1099.5" x2="752.9" y2="1103.5" stroke="#2f2c68" stroke-width="1.5"/>
<text x="752.9" y="1121.7" text-anchor="middle" font-size="20" fill="#1e1b5a">1500</text>
<line x1="839.3" y1="1099.5" x2="839.3" y2="1103.5" stroke="#2f2c68" stroke-width="1.5"/>
<text x="839.3" y="1121.7" text-anchor="middle" font-size="20" fill="#1e1b5a">2000</text>
<line x1="925.7" y1="1099.5" x2="925.7" y2="1103.5" stroke="#2f2c68" stroke-width="1.5"/>
<text x="925.7" y="1121.7" text-anchor="middle" font-size="20" fill="#1e1b5a">2500</text>
<text x="564.8" y="818.2" font-size="19.8" font-weight="bold" font-style="italic" fill="#1e1b5a">Moderate</text>
<text x="742.8" y="1141.0" text-anchor="middle" font-size="17.3" font-weight="bold" fill="#1e1b5a">Wavelength (nm)</text>
<rect x="977.4" y="790.7" width="391.0" height="308.8" fill="url(#bgBot)"/>
<g clip-path="url(#clip02)">
<path d="M995.6,1082.0 998.9,1081.8 1002.1,1081.2 1005.9,1080.1 1008.6,1079.0 1010.1,1077.4 1013.4,1072.4 1016.9,1067.9 1018.2,1066.6 1019.4,1066.0 1021.7,1066.1 1024.2,1066.6 1028.7,1067.9 1030.5,1068.5 1034.0,1070.6 1037.5,1075.5 1038.2,1075.8 1039.0,1075.0 1041.0,1069.7 1042.2,1064.2 1046.3,1021.2 1047.8,1008.4 1049.5,995.9 1055.0,965.3 1056.8,957.6 1058.8,950.3 1061.1,943.5 1064.1,936.4 1065.3,933.1 1069.3,918.7 1070.8,914.0 1073.3,907.7 1076.6,900.6 1078.6,896.9 1080.9,893.7 1090.9,882.5 1092.9,879.8 1094.7,876.6 1102.4,860.3 1104.7,856.4 1108.0,852.5 1110.0,850.8 1111.2,850.5 1114.7,850.8 1117.2,851.3 1118.0,851.6 1121.5,854.7 1122.8,855.5 1134.0,856.5 1138.1,857.3 1142.6,858.8 1145.8,860.1 1149.6,862.0 1153.1,864.2 L1153.1,891.5 1149.6,888.6 1145.3,886.1 1138.3,883.3 1134.5,882.3 1131.5,882.1 1125.3,882.8 1122.8,882.9 1121.0,882.5 1116.5,880.7 1114.2,880.4 1112.0,880.8 1109.0,882.0 1108.0,882.6 1106.7,883.8 1104.7,886.7 1100.9,892.8 1096.2,902.1 1082.4,927.9 1080.1,933.2 1075.1,948.4 1071.1,958.8 1068.6,967.5 1061.1,998.2 1059.6,1002.5 1056.0,1010.0 1054.5,1014.8 1051.3,1029.6 1045.5,1058.6 1043.5,1070.1 1041.7,1076.2 1039.7,1080.5 1038.7,1081.8 1038.2,1082.0 1037.5,1082.0 1033.5,1081.0 1028.7,1079.3 1023.2,1078.6 1019.2,1078.4 1017.4,1078.8 1013.9,1080.4 1010.1,1082.6 1008.4,1083.3 1001.6,1084.4 995.6,1084.7 Z" fill="#b29878" stroke="none"/>
<path d="M1178.9,936.4 1179.7,936.2 1180.4,935.7 1182.7,933.1 1185.7,926.1 1188.2,922.1 1191.2,918.2 1195.0,913.9 1200.5,908.5 1204.3,904.4 1205.8,903.1 1207.0,902.5 1208.3,902.3 1209.5,902.6 1211.3,903.5 1212.6,904.5 1213.8,906.5 1216.6,912.2 1219.6,917.7 1220.6,919.1 1221.3,919.8 1222.1,919.9 1224.1,919.7 1228.6,918.9 1230.6,918.2 1233.4,916.7 L1233.4,952.8 1230.9,954.5 1228.1,955.4 1224.1,955.7 1223.1,955.4 1222.1,954.9 1219.8,953.1 1217.8,951.1 1213.6,943.0 1209.8,937.5 1208.8,936.6 1208.0,936.2 1207.3,936.3 1206.3,936.7 1204.5,938.1 1200.2,943.0 1194.2,948.7 1192.2,951.2 1190.5,954.1 1187.7,959.7 1184.4,967.6 1181.9,975.0 1178.9,985.4 Z" fill="#b29878" stroke="none"/>
<path d="M1278.0,985.4 1281.3,986.5 1284.0,986.8 1287.8,986.4 1292.8,985.3 1295.8,984.1 1301.4,980.8 1305.9,977.3 1306.9,976.8 1307.9,976.7 1308.9,977.2 1309.9,978.3 1313.2,983.2 1317.7,992.6 1321.2,999.3 1322.5,1001.3 1323.7,1002.6 1324.2,1002.7 1331.5,1002.7 1332.5,1002.3 1333.8,1001.2 1336.3,997.9 1338.8,993.3 L1338.8,1067.9 1336.8,1062.0 1335.0,1057.7 1332.8,1053.1 1331.0,1050.2 1329.0,1048.1 1325.0,1045.3 1321.5,1042.3 1319.7,1040.5 1318.2,1038.4 1316.7,1035.2 1313.7,1026.9 1309.9,1017.3 1308.9,1015.3 1308.1,1014.4 1307.4,1014.3 1306.1,1015.0 1302.4,1019.0 1301.1,1020.1 1297.8,1021.8 1294.3,1023.4 1287.3,1025.7 1284.3,1026.4 1281.3,1026.6 1278.0,1025.9 Z" fill="#b29878" stroke="none"/>
<path d="M995.6,1079.3 998.6,1079.1 1001.9,1078.4 1005.1,1077.2 1008.4,1075.6 1009.1,1074.7 1009.9,1073.3 1012.9,1065.9 1014.4,1063.2 1015.2,1062.5 1019.2,1061.2 1022.2,1060.7 1025.2,1060.8 1028.5,1061.4 1032.0,1062.5 1032.7,1063.0 1033.5,1063.9 1036.0,1068.3 1037.2,1070.0 1038.0,1070.5 1038.5,1070.4 1039.5,1069.1 1040.7,1065.6 1041.2,1063.2 1044.5,1026.6 1046.8,1007.3 1048.8,993.8 1052.8,971.1 1054.3,963.2 1055.8,956.9 1060.1,942.8 1065.8,922.2 1071.1,906.5 1072.8,902.3 1075.4,897.4 1078.1,892.7 1081.4,888.0 1088.4,880.3 1092.2,874.9 1096.4,867.4 1101.4,856.3 1104.4,850.8 1106.2,848.0 1107.7,846.3 1112.2,842.6 1114.7,841.4 1116.7,841.1 1118.2,842.1 1121.5,845.9 1123.0,847.0 1125.8,847.7 1133.0,848.9 1140.8,850.9 1146.6,853.1 1153.1,856.5" fill="none" stroke="#86555f" stroke-width="1.6" stroke-dasharray="1.5 1.55"/>
<path d="M995.6,1087.3 1001.9,1087.1 1008.4,1086.4 1010.1,1085.7 1014.9,1083.0 1019.7,1081.6 1022.7,1081.1 1027.7,1081.5 1034.0,1083.0 1035.2,1083.6 1038.2,1085.8 1039.5,1086.3 1040.0,1086.4 1040.5,1086.2 1041.2,1085.3 1042.2,1083.2 1042.7,1081.4 1046.3,1057.7 1048.0,1048.6 1049.8,1041.2 1051.8,1033.8 1058.0,1012.9 1062.6,999.1 1068.6,976.1 1073.3,959.9 1076.6,950.7 1080.9,940.1 1094.2,910.4 1096.7,905.5 1099.7,900.3 1102.2,896.5 1105.2,892.6 1107.2,890.4 1111.0,886.8 1112.5,885.8 1114.0,885.5 1115.2,886.1 1118.0,888.9 1119.2,889.7 1132.8,889.8 1135.5,890.2 1138.3,891.0 1145.1,893.5 1148.8,895.2 1153.1,897.5" fill="none" stroke="#86555f" stroke-width="1.6" stroke-dasharray="1.5 1.55"/>
<path d="M1178.9,925.5 1182.2,922.9 1185.7,919.3 1191.0,911.5 1193.0,909.1 1200.0,902.6 1204.0,898.2 1205.8,897.1 1209.8,896.8 1210.5,897.1 1211.5,897.9 1214.6,902.1 1218.1,909.3 1220.3,912.9 1221.3,913.9 1224.6,914.3 1228.9,914.3 1230.9,913.2 1233.4,910.9" fill="none" stroke="#86555f" stroke-width="1.6" stroke-dasharray="1.5 1.55"/>
<path d="M1178.9,999.9 1180.7,989.6 1182.2,982.3 1184.4,974.7 1186.9,968.1 1190.2,961.2 1193.2,956.0 1200.5,945.6 1202.0,943.8 1203.3,942.6 1205.5,941.3 1207.5,940.6 1208.8,940.5 1210.0,941.3 1211.5,943.0 1213.6,946.0 1216.8,954.4 1218.1,957.1 1220.1,959.2 1222.3,960.9 1224.1,961.5 1226.1,961.3 1228.6,960.5 1233.4,958.5" fill="none" stroke="#86555f" stroke-width="1.6" stroke-dasharray="1.5 1.55"/>
<path d="M1278.0,971.6 1280.3,975.2 1281.8,977.1 1283.0,977.9 1284.5,978.1 1287.0,977.5 1292.1,975.4 1301.1,972.4 1307.6,969.1 1309.2,968.7 1310.2,968.8 1310.9,969.4 1311.7,970.4 1314.7,976.3 1318.2,986.0 1319.7,989.3 1321.7,991.9 1323.2,993.5 1324.5,994.5 1325.7,994.8 1327.2,994.5 1329.0,993.5 1331.5,991.2 1332.3,990.0 1333.8,986.2 1338.8,970.4" fill="none" stroke="#86555f" stroke-width="1.6" stroke-dasharray="1.5 1.55"/>
<path d="M1278.0,1036.0 1281.3,1032.3 1283.8,1030.2 1286.8,1028.7 1297.3,1024.8 1300.1,1023.5 1302.1,1022.2 1305.1,1018.8 1306.4,1017.7 1307.6,1017.2 1308.4,1017.6 1309.2,1018.6 1309.9,1020.2 1316.7,1037.7 1318.2,1041.2 1319.7,1043.8 1324.5,1050.8 1326.7,1055.0 1328.8,1059.6 1331.5,1068.3 1333.5,1075.7 1336.3,1086.9 1338.8,1095.4" fill="none" stroke="#86555f" stroke-width="1.6" stroke-dasharray="1.5 1.55"/>
<path d="M995.6,1083.4 1001.6,1082.9 1008.4,1081.5 1010.1,1080.6 1013.4,1078.2 1017.2,1075.7 1018.4,1075.1 1019.4,1074.9 1023.4,1075.3 1031.7,1077.0 1034.2,1077.8 1038.5,1079.8 1039.5,1079.9 1040.0,1079.3 1040.7,1076.4 1042.2,1068.5 1048.8,1024.5 1050.8,1014.1 1052.0,1008.9 1059.6,980.9 1065.6,959.7 1069.8,942.3 1072.3,933.9 1074.6,927.1 1076.6,921.7 1078.9,916.5 1081.6,910.9 1085.9,903.3 1092.7,892.9 1099.2,881.1 1103.2,874.1 1104.9,871.4 1108.0,868.4 1110.2,866.9 1111.2,866.7 1116.7,866.7 1118.0,867.1 1123.0,869.6 1124.3,870.0 1133.0,870.1 1136.0,870.7 1146.1,874.8 1149.6,876.5 1153.1,878.7" fill="none" stroke="#000" stroke-width="2.1" stroke-linejoin="round"/>
<path d="M1178.9,963.0 1188.4,942.9 1193.2,934.3 1195.5,930.8 1198.0,927.6 1203.0,921.8 1204.8,920.3 1207.0,919.5 1208.5,919.3 1209.5,919.6 1211.0,920.9 1212.3,922.2 1213.3,923.6 1219.6,934.6 1221.8,937.5 1222.9,938.5 1223.6,938.7 1229.9,938.7 1231.4,938.0 1233.4,936.5" fill="none" stroke="#000" stroke-width="2.1" stroke-linejoin="round"/>
<path d="M1278.0,1006.4 1293.1,1002.7 1297.3,1001.4 1300.4,1000.2 1302.9,998.9 1306.6,995.8 1307.6,995.5 1308.4,995.7 1309.9,996.8 1311.7,999.0 1312.7,1001.3 1315.2,1009.0 1316.9,1012.8 1320.2,1018.5 1324.2,1023.6 1325.7,1025.0 1327.0,1025.8 1328.8,1026.3 1334.5,1027.4 1336.3,1028.1 1338.8,1029.5" fill="none" stroke="#000" stroke-width="2.1" stroke-linejoin="round"/>
</g>
<rect x="977.4" y="790.7" width="391.0" height="308.8" fill="none" stroke="#2f2c68" stroke-width="1.8"/>
<line x1="973.4" y1="1088.4" x2="977.4" y2="1088.4" stroke="#2f2c68" stroke-width="1.5"/>
<text transform="translate(970.6 1088.4) rotate(-90)" text-anchor="middle" font-size="20" fill="#1e1b5a">0</text>
<line x1="973.4" y1="1048.7" x2="977.4" y2="1048.7" stroke="#2f2c68" stroke-width="1.5"/>
<text transform="translate(970.6 1048.7) rotate(-90)" text-anchor="middle" font-size="20" fill="#1e1b5a">10</text>
<line x1="973.4" y1="1008.9" x2="977.4" y2="1008.9" stroke="#2f2c68" stroke-width="1.5"/>
<text transform="translate(970.6 1008.9) rotate(-90)" text-anchor="middle" font-size="20" fill="#1e1b5a">20</text>
<line x1="973.4" y1="969.2" x2="977.4" y2="969.2" stroke="#2f2c68" stroke-width="1.5"/>
<text transform="translate(970.6 969.2) rotate(-90)" text-anchor="middle" font-size="20" fill="#1e1b5a">30</text>
<line x1="973.4" y1="929.4" x2="977.4" y2="929.4" stroke="#2f2c68" stroke-width="1.5"/>
<text transform="translate(970.6 929.4) rotate(-90)" text-anchor="middle" font-size="20" fill="#1e1b5a">40</text>
<line x1="973.4" y1="889.7" x2="977.4" y2="889.7" stroke="#2f2c68" stroke-width="1.5"/>
<text transform="translate(970.6 889.7) rotate(-90)" text-anchor="middle" font-size="20" fill="#1e1b5a">50</text>
<line x1="973.4" y1="849.9" x2="977.4" y2="849.9" stroke="#2f2c68" stroke-width="1.5"/>
<text transform="translate(970.6 849.9) rotate(-90)" text-anchor="middle" font-size="20" fill="#1e1b5a">60</text>
<line x1="973.4" y1="810.2" x2="977.4" y2="810.2" stroke="#2f2c68" stroke-width="1.5"/>
<text transform="translate(970.6 810.2) rotate(-90)" text-anchor="middle" font-size="20" fill="#1e1b5a">70</text>
<line x1="1008.7" y1="1099.5" x2="1008.7" y2="1103.5" stroke="#2f2c68" stroke-width="1.5"/>
<text x="1008.7" y="1121.7" text-anchor="middle" font-size="20" fill="#1e1b5a">500</text>
<line x1="1095.1" y1="1099.5" x2="1095.1" y2="1103.5" stroke="#2f2c68" stroke-width="1.5"/>
<text x="1095.1" y="1121.7" text-anchor="middle" font-size="20" fill="#1e1b5a">1000</text>
<line x1="1181.5" y1="1099.5" x2="1181.5" y2="1103.5" stroke="#2f2c68" stroke-width="1.5"/>
<text x="1181.5" y="1121.7" text-anchor="middle" font-size="20" fill="#1e1b5a">1500</text>
<line x1="1267.9" y1="1099.5" x2="1267.9" y2="1103.5" stroke="#2f2c68" stroke-width="1.5"/>
<text x="1267.9" y="1121.7" text-anchor="middle" font-size="20" fill="#1e1b5a">2000</text>
<line x1="1354.3" y1="1099.5" x2="1354.3" y2="1103.5" stroke="#2f2c68" stroke-width="1.5"/>
<text x="1354.3" y="1121.7" text-anchor="middle" font-size="20" fill="#1e1b5a">2500</text>
<text x="993.4" y="818.2" font-size="19.8" font-weight="bold" font-style="italic" fill="#1e1b5a">High</text>
<rect x="120.5" y="1157.4" width="391.0" height="308.8" fill="url(#bgBot)"/>
<g clip-path="url(#clip10)">
<path d="M133.7,1439.3 143.5,1439.0 150.7,1438.1 151.2,1436.4 151.7,1433.1 153.7,1414.9 154.2,1412.3 154.5,1411.7 154.7,1411.6 155.5,1412.0 156.2,1412.8 159.2,1417.6 163.2,1427.5 164.7,1430.5 168.5,1435.1 171.5,1438.1 173.2,1439.5 174.7,1440.3 176.2,1440.8 177.7,1440.9 179.7,1440.6 181.5,1439.9 183.5,1438.5 184.5,1437.4 185.0,1430.0 185.5,1414.9 187.5,1335.4 189.2,1293.7 190.2,1275.6 190.7,1269.6 191.7,1261.9 192.7,1255.6 193.7,1251.1 194.3,1249.7 194.8,1249.1 198.5,1248.7 207.5,1249.0 218.3,1250.0 224.0,1251.4 232.5,1254.1 246.3,1253.8 252.8,1254.1 258.6,1254.6 259.6,1255.2 262.1,1258.5 263.3,1259.5 266.8,1260.3 281.6,1262.2 286.1,1263.1 287.8,1263.6 289.1,1264.2 290.6,1265.2 292.3,1266.7 294.8,1269.4 297.1,1273.0 299.3,1278.1 301.1,1283.8 302.1,1289.0 303.1,1295.7 305.3,1321.2 306.8,1334.7 308.1,1343.6 309.6,1350.1 311.1,1354.8 313.3,1359.2 314.1,1360.3 314.9,1360.9 315.4,1361.0 316.1,1360.4 317.4,1357.9 321.1,1347.6 325.6,1333.4 329.6,1322.8 332.4,1316.6 335.4,1311.5 338.4,1307.4 340.4,1305.3 344.1,1302.5 345.6,1301.6 347.1,1300.9 348.6,1300.7 349.6,1300.9 351.4,1302.1 355.4,1306.4 360.1,1310.6 362.1,1312.2 363.6,1313.1 368.1,1315.2 371.1,1316.0 372.6,1316.2 380.4,1316.2 380.9,1316.4 381.4,1317.1 382.2,1318.9 383.9,1325.1 384.7,1329.2 385.7,1336.7 387.2,1351.6 389.4,1386.0 390.7,1398.1 391.9,1407.6 393.4,1415.3 394.9,1420.9 396.2,1423.3 397.9,1425.3 398.9,1425.6 400.2,1425.0 401.4,1423.7 403.7,1420.5 404.9,1417.9 408.2,1408.8 409.9,1404.8 414.7,1396.1 416.7,1393.0 418.7,1390.5 420.7,1388.4 423.2,1386.2 433.2,1378.6 440.5,1373.5 444.5,1370.5 446.0,1369.7 447.5,1369.4 448.2,1369.6 449.0,1370.2 451.0,1372.5 455.0,1381.5 458.7,1388.2 461.5,1392.3 464.5,1395.5 471.7,1401.3 477.5,1407.5 480.7,1411.7 488.2,1423.0 496.0,1433.2 L496.0,1438.5 491.7,1436.5 486.5,1432.9 479.0,1425.3 465.7,1414.8 461.2,1410.6 458.0,1407.0 455.5,1403.5 454.2,1401.3 451.7,1394.8 450.7,1392.7 448.7,1390.0 448.0,1389.4 447.5,1389.2 445.7,1389.4 444.0,1390.1 437.5,1393.5 432.7,1396.9 425.9,1402.6 421.4,1407.1 417.4,1411.8 414.7,1415.8 405.2,1430.8 401.7,1435.0 400.2,1436.5 399.2,1437.0 397.7,1436.9 395.7,1436.3 394.9,1435.6 394.2,1434.3 392.7,1430.1 392.2,1427.7 391.4,1422.1 389.4,1400.9 386.9,1361.8 385.7,1351.8 384.7,1346.0 383.9,1342.9 382.4,1339.5 381.2,1337.8 380.7,1337.5 379.4,1337.6 373.4,1339.0 371.9,1338.9 370.4,1338.5 368.1,1337.3 362.4,1333.6 351.6,1325.7 349.4,1324.7 347.6,1324.7 345.9,1325.3 340.6,1328.7 337.9,1330.9 335.4,1333.5 333.1,1336.4 331.4,1339.6 329.1,1345.0 325.6,1354.7 320.9,1371.0 317.6,1380.1 316.6,1382.4 315.9,1383.5 315.4,1383.8 314.3,1383.6 311.8,1382.0 310.3,1380.0 308.3,1375.3 307.6,1372.1 306.3,1363.4 305.1,1352.1 303.1,1324.6 301.8,1314.5 300.8,1308.6 299.6,1304.7 297.6,1300.5 295.6,1297.6 292.6,1294.4 290.6,1292.7 288.8,1291.5 284.6,1289.9 278.8,1288.6 272.1,1287.4 266.1,1286.6 263.3,1286.0 262.1,1285.2 259.6,1282.5 258.6,1282.0 252.8,1281.3 246.5,1281.0 241.5,1280.9 232.5,1281.2 231.5,1280.8 229.5,1279.6 226.0,1278.2 222.0,1276.9 218.5,1276.0 207.5,1274.4 199.0,1273.9 197.8,1274.2 196.5,1275.0 195.0,1276.3 194.0,1277.6 192.5,1281.2 191.7,1286.9 190.7,1302.1 189.0,1336.9 186.2,1408.1 185.0,1434.0 184.5,1439.6 184.0,1440.2 182.5,1441.2 180.0,1442.2 176.7,1442.5 174.2,1441.9 170.7,1440.0 164.7,1435.5 160.5,1430.8 159.2,1429.7 156.5,1428.2 154.7,1427.7 154.2,1428.0 153.7,1429.2 151.7,1437.5 151.2,1439.0 150.7,1439.8 143.5,1440.2 133.7,1440.3 Z" fill="#77b87c" stroke="none"/>
<path d="M133.7,1439.0 143.0,1438.6 147.2,1438.0 150.7,1437.3 151.2,1436.3 152.0,1432.8 155.0,1411.2 155.7,1408.2 156.2,1407.6 157.0,1407.8 158.0,1408.6 160.7,1412.3 162.0,1415.0 165.0,1423.8 166.2,1426.8 170.5,1433.8 173.2,1437.3 174.5,1438.3 175.5,1438.8 176.5,1439.0 178.2,1438.8 180.0,1438.3 181.5,1437.5 183.5,1435.9 183.7,1435.2 184.5,1419.9 186.7,1334.0 188.7,1289.4 190.0,1268.6 191.0,1259.8 192.5,1252.9 194.0,1248.0 194.8,1246.6 195.5,1245.9 199.8,1245.4 207.8,1245.7 218.3,1246.8 224.3,1248.2 232.5,1250.9 241.0,1250.3 245.3,1250.3 252.3,1250.7 258.6,1251.4 259.6,1252.1 262.1,1255.9 262.8,1256.7 263.3,1257.0 266.8,1257.7 282.6,1259.4 287.6,1260.3 289.3,1260.9 291.3,1261.8 293.6,1263.3 295.3,1264.7 297.1,1266.7 298.6,1269.0 300.1,1272.3 300.8,1274.7 301.8,1281.1 303.3,1293.3 306.1,1320.7 308.3,1336.8 309.6,1342.5 311.3,1348.0 312.1,1349.5 313.3,1351.3 314.1,1352.2 314.9,1352.6 315.6,1352.6 316.1,1352.1 317.4,1349.8 321.9,1338.6 331.4,1313.4 333.6,1308.1 335.1,1305.4 337.9,1301.5 339.9,1299.3 341.9,1297.6 344.4,1296.2 346.4,1295.4 348.1,1295.0 349.6,1295.2 350.9,1295.8 352.4,1296.9 357.4,1301.3 361.4,1305.4 363.6,1307.0 367.9,1308.6 371.4,1309.3 374.1,1309.3 380.2,1308.6 380.9,1308.7 381.7,1309.1 382.9,1310.6 383.9,1312.6 384.4,1315.1 385.2,1321.1 386.9,1339.6 389.4,1378.3 390.7,1391.1 391.9,1401.3 393.7,1410.5 395.4,1417.4 396.7,1420.4 397.2,1421.1 398.4,1422.0 399.7,1422.5 400.7,1422.5 401.7,1421.8 402.9,1419.9 404.9,1416.3 405.9,1414.0 409.7,1402.8 411.4,1398.7 415.7,1390.8 417.9,1387.4 420.2,1384.4 424.2,1380.0 429.4,1375.3 440.0,1367.8 445.2,1362.7 446.5,1362.0 447.5,1361.8 448.2,1362.0 449.2,1362.7 451.7,1365.5 453.0,1367.8 456.5,1375.4 459.7,1380.6 462.5,1384.2 465.7,1387.7 471.2,1391.9 473.7,1394.2 477.2,1398.2 481.0,1403.1 484.0,1407.6 488.7,1415.6 496.0,1428.7" fill="none" stroke="#86555f" stroke-width="1.6" stroke-dasharray="1.5 1.55"/>
<path d="M133.7,1440.9 141.0,1441.3 150.7,1441.4 151.2,1441.0 152.0,1439.6 155.0,1430.8 155.7,1429.6 156.2,1429.3 158.2,1429.8 161.2,1431.5 166.0,1436.0 171.0,1440.3 173.0,1441.8 174.5,1442.6 176.2,1443.0 179.2,1442.6 181.7,1441.6 183.7,1440.1 184.2,1438.1 185.0,1432.3 186.0,1421.4 186.5,1413.3 189.0,1345.2 191.0,1303.0 192.0,1288.0 192.5,1284.4 193.0,1282.5 194.0,1279.5 195.0,1277.7 195.5,1277.3 196.5,1277.0 200.8,1276.7 208.3,1277.1 217.3,1278.1 219.8,1278.8 225.8,1281.3 228.5,1281.9 233.5,1282.0 241.0,1281.5 245.8,1281.6 252.3,1282.1 258.3,1283.1 258.8,1283.2 259.6,1283.8 262.1,1287.4 263.3,1288.4 266.1,1289.0 272.8,1290.0 281.8,1292.0 284.8,1293.0 287.6,1294.1 288.8,1294.9 290.3,1296.2 293.8,1300.4 296.8,1304.9 298.8,1309.0 300.6,1314.0 301.6,1318.9 303.1,1329.1 305.8,1356.6 307.6,1371.2 308.6,1377.8 309.6,1381.6 311.1,1385.4 312.1,1386.8 314.3,1388.2 315.1,1388.4 315.6,1388.3 316.6,1387.2 317.6,1385.3 320.1,1379.3 321.6,1375.1 325.6,1362.3 329.9,1350.3 332.4,1344.2 335.1,1339.0 337.4,1335.2 339.1,1332.9 340.6,1331.6 343.4,1330.3 345.6,1329.5 347.9,1329.1 349.4,1329.2 351.4,1330.3 356.1,1334.5 370.4,1343.0 371.6,1343.4 372.9,1343.6 379.7,1342.8 380.7,1342.8 381.2,1343.1 381.9,1344.1 382.7,1345.7 384.2,1350.0 385.2,1355.4 386.2,1362.7 387.2,1372.7 389.4,1408.7 390.9,1423.9 391.9,1431.5 392.4,1433.9 393.2,1435.5 394.7,1437.7 396.2,1439.0 397.4,1439.3 399.2,1439.0 401.9,1437.7 402.9,1436.9 404.4,1434.7 407.7,1429.0 415.4,1417.0 419.4,1412.2 424.2,1407.4 430.9,1401.6 436.7,1397.2 444.2,1392.4 446.0,1391.6 447.5,1391.4 448.2,1391.6 449.0,1392.2 450.7,1394.1 451.7,1396.4 454.0,1403.4 455.0,1405.8 458.5,1411.5 462.7,1416.6 466.2,1419.8 485.7,1435.5 491.0,1438.9 496.0,1441.6" fill="none" stroke="#86555f" stroke-width="1.6" stroke-dasharray="1.5 1.55"/>
<path d="M133.7,1439.8 137.5,1438.3 140.5,1437.7 143.0,1437.9 149.0,1438.9 150.5,1439.0 151.0,1438.8 151.7,1437.6 153.2,1433.5 155.2,1423.0 155.7,1421.2 156.2,1420.5 157.2,1420.7 158.2,1421.2 160.7,1423.4 161.7,1425.4 164.2,1431.9 165.0,1433.2 166.0,1434.5 169.0,1437.3 174.0,1440.7 176.0,1441.7 177.0,1441.9 177.7,1441.8 181.0,1439.9 184.0,1439.0 184.5,1438.4 185.0,1429.5 188.2,1331.5 190.0,1290.5 190.7,1277.7 192.0,1270.2 192.7,1267.3 193.5,1265.3 194.5,1263.8 196.3,1262.2 197.8,1261.3 199.0,1261.1 208.8,1261.5 219.8,1262.6 224.0,1263.5 228.3,1264.7 229.8,1265.2 231.8,1266.4 232.5,1266.7 240.8,1266.0 244.3,1265.9 251.8,1266.2 258.6,1267.0 259.6,1267.7 262.1,1271.2 263.3,1272.3 266.1,1273.0 272.1,1273.7 279.1,1275.0 284.8,1276.3 287.6,1277.2 289.1,1278.0 290.8,1279.2 292.8,1280.9 295.8,1284.1 298.1,1287.5 300.3,1292.3 301.3,1295.8 303.1,1306.3 305.3,1336.4 306.6,1347.3 307.8,1355.9 309.6,1364.2 310.8,1368.4 311.3,1369.3 312.6,1370.9 313.6,1371.8 314.6,1372.3 315.4,1372.4 316.1,1371.8 317.6,1369.0 321.1,1359.8 325.6,1345.6 329.6,1335.0 332.4,1328.8 335.4,1323.7 338.4,1319.6 340.6,1317.3 344.4,1314.5 346.4,1313.4 348.1,1312.9 349.6,1313.0 351.6,1313.8 353.6,1315.0 354.6,1315.8 359.1,1320.8 360.6,1322.2 364.9,1325.2 368.1,1326.8 371.4,1327.9 373.6,1328.4 375.7,1328.3 380.2,1327.6 380.9,1327.7 381.4,1328.0 382.7,1329.6 383.9,1332.3 384.7,1336.1 386.2,1347.1 388.2,1367.1 391.4,1408.3 392.7,1419.3 393.9,1425.6 394.9,1429.3 395.7,1430.9 397.7,1432.8 398.9,1433.2 399.9,1432.8 401.2,1431.5 403.4,1428.5 405.2,1425.5 408.9,1417.4 411.9,1412.2 416.4,1405.5 420.9,1400.0 426.7,1394.4 435.4,1387.0 444.5,1380.3 446.0,1379.6 447.5,1379.3 448.7,1379.9 450.7,1382.0 451.7,1384.0 455.0,1392.1 458.0,1397.0 461.2,1401.3 464.2,1404.4 471.0,1409.8 476.2,1414.7 480.0,1418.9 485.0,1426.3 486.7,1428.5 491.7,1433.4 494.0,1435.1 496.0,1436.3" fill="none" stroke="#000" stroke-width="2.1" stroke-linejoin="round"/>
</g>
<rect x="120.5" y="1157.4" width="391.0" height="308.8" fill="none" stroke="#2f2c68" stroke-width="1.8"/>
<line x1="116.5" y1="1455.1" x2="120.5" y2="1455.1" stroke="#2f2c68" stroke-width="1.5"/>
<text transform="translate(113.7 1455.1) rotate(-90)" text-anchor="middle" font-size="20" fill="#1e1b5a">0</text>
<line x1="116.5" y1="1415.4" x2="120.5" y2="1415.4" stroke="#2f2c68" stroke-width="1.5"/>
<text transform="translate(113.7 1415.4) rotate(-90)" text-anchor="middle" font-size="20" fill="#1e1b5a">10</text>
<line x1="116.5" y1="1375.6" x2="120.5" y2="1375.6" stroke="#2f2c68" stroke-width="1.5"/>
<text transform="translate(113.7 1375.6) rotate(-90)" text-anchor="middle" font-size="20" fill="#1e1b5a">20</text>
<line x1="116.5" y1="1335.9" x2="120.5" y2="1335.9" stroke="#2f2c68" stroke-width="1.5"/>
<text transform="translate(113.7 1335.9) rotate(-90)" text-anchor="middle" font-size="20" fill="#1e1b5a">30</text>
<line x1="116.5" y1="1296.1" x2="120.5" y2="1296.1" stroke="#2f2c68" stroke-width="1.5"/>
<text transform="translate(113.7 1296.1) rotate(-90)" text-anchor="middle" font-size="20" fill="#1e1b5a">40</text>
<line x1="116.5" y1="1256.4" x2="120.5" y2="1256.4" stroke="#2f2c68" stroke-width="1.5"/>
<text transform="translate(113.7 1256.4) rotate(-90)" text-anchor="middle" font-size="20" fill="#1e1b5a">50</text>
<line x1="116.5" y1="1216.6" x2="120.5" y2="1216.6" stroke="#2f2c68" stroke-width="1.5"/>
<text transform="translate(113.7 1216.6) rotate(-90)" text-anchor="middle" font-size="20" fill="#1e1b5a">60</text>
<line x1="116.5" y1="1176.9" x2="120.5" y2="1176.9" stroke="#2f2c68" stroke-width="1.5"/>
<text transform="translate(113.7 1176.9) rotate(-90)" text-anchor="middle" font-size="20" fill="#1e1b5a">70</text>
<line x1="151.8" y1="1466.2" x2="151.8" y2="1470.2" stroke="#2f2c68" stroke-width="1.5"/>
<text x="151.8" y="1488.4" text-anchor="middle" font-size="20" fill="#1e1b5a">500</text>
<line x1="238.2" y1="1466.2" x2="238.2" y2="1470.2" stroke="#2f2c68" stroke-width="1.5"/>
<text x="238.2" y="1488.4" text-anchor="middle" font-size="20" fill="#1e1b5a">1000</text>
<line x1="324.6" y1="1466.2" x2="324.6" y2="1470.2" stroke="#2f2c68" stroke-width="1.5"/>
<text x="324.6" y="1488.4" text-anchor="middle" font-size="20" fill="#1e1b5a">1500</text>
<line x1="411.0" y1="1466.2" x2="411.0" y2="1470.2" stroke="#2f2c68" stroke-width="1.5"/>
<text x="411.0" y="1488.4" text-anchor="middle" font-size="20" fill="#1e1b5a">2000</text>
<line x1="497.4" y1="1466.2" x2="497.4" y2="1470.2" stroke="#2f2c68" stroke-width="1.5"/>
<text x="497.4" y="1488.4" text-anchor="middle" font-size="20" fill="#1e1b5a">2500</text>
<text x="136.5" y="1184.9" font-size="19.8" font-weight="bold" font-style="italic" fill="#1e1b5a">Low</text>
<text transform="translate(85.5 1311.8) rotate(-90)" text-anchor="middle" font-size="19.8" font-weight="bold" fill="#1e1b5a">Reflectance (%)</text>
<rect x="548.8" y="1157.4" width="391.0" height="308.8" fill="url(#bgBot)"/>
<g clip-path="url(#clip11)">
<path d="M562.5,1438.7 567.5,1438.6 572.0,1438.2 576.3,1437.4 579.5,1436.5 580.0,1434.5 580.5,1430.5 582.5,1409.1 583.0,1406.0 583.3,1405.3 583.5,1405.2 587.5,1405.2 588.3,1405.7 589.3,1407.6 591.3,1412.7 596.0,1422.5 598.5,1426.0 603.0,1431.2 606.8,1436.5 608.0,1437.3 609.3,1437.3 611.3,1436.6 612.3,1435.9 612.5,1435.4 613.0,1428.7 613.5,1415.8 615.3,1356.5 616.8,1325.1 618.8,1293.8 620.3,1278.0 621.5,1268.2 622.5,1263.0 623.8,1257.8 624.5,1255.7 625.3,1254.6 627.3,1253.8 629.5,1253.3 636.6,1252.4 641.6,1252.0 649.3,1251.9 657.6,1252.2 658.3,1252.5 660.1,1253.6 660.8,1253.8 662.8,1253.6 667.8,1252.5 670.1,1252.2 677.6,1252.4 685.1,1253.0 686.8,1253.5 689.8,1254.7 693.6,1256.7 707.3,1258.5 711.6,1259.3 715.4,1260.3 719.1,1261.7 722.4,1263.9 724.6,1266.4 726.9,1270.3 729.4,1277.9 730.6,1282.5 731.6,1288.3 734.1,1310.2 735.9,1321.3 737.1,1327.0 738.6,1331.5 740.1,1334.9 742.4,1337.7 743.4,1338.5 744.1,1338.9 744.9,1339.0 745.4,1338.7 746.1,1337.9 746.9,1336.6 750.4,1329.0 755.1,1316.8 758.9,1309.1 761.6,1304.3 764.1,1301.2 767.1,1298.2 769.9,1296.1 775.1,1292.7 776.6,1292.1 777.9,1291.9 778.9,1292.0 779.9,1292.4 781.9,1293.8 791.4,1302.2 793.2,1303.2 796.4,1304.5 798.9,1305.1 800.9,1305.3 803.2,1305.1 809.2,1304.1 810.2,1304.1 810.9,1304.5 812.2,1306.5 813.4,1309.7 814.2,1313.8 815.4,1324.0 816.2,1332.9 818.2,1363.6 819.9,1384.6 820.9,1393.9 821.7,1398.1 823.2,1404.2 824.2,1406.9 824.7,1407.8 825.2,1408.2 826.9,1408.7 828.4,1408.9 829.2,1408.5 830.2,1407.3 834.9,1398.9 844.7,1378.3 846.4,1375.6 849.2,1372.5 852.4,1369.7 856.0,1367.5 870.2,1360.6 872.7,1359.3 876.0,1357.0 877.0,1356.6 877.7,1356.5 878.5,1356.7 879.5,1357.6 882.2,1361.4 887.2,1371.9 890.2,1377.0 892.2,1380.0 895.0,1382.9 900.2,1386.8 903.0,1389.2 906.2,1392.4 909.0,1395.4 911.5,1398.6 914.5,1403.0 921.2,1413.9 925.5,1419.5 L925.5,1434.0 922.7,1431.9 920.0,1429.1 915.7,1423.2 911.0,1416.2 908.2,1412.9 905.5,1410.5 901.7,1407.8 893.7,1402.9 891.0,1400.7 888.7,1398.4 887.5,1396.8 886.5,1395.0 882.0,1383.9 879.2,1379.6 878.5,1378.8 877.7,1378.5 877.0,1378.6 876.0,1379.1 872.5,1381.6 865.5,1384.3 860.0,1386.9 856.2,1389.2 853.2,1391.5 849.9,1395.2 842.9,1404.4 839.9,1408.7 837.9,1412.1 833.7,1421.0 829.9,1427.5 829.2,1428.3 828.4,1428.7 824.9,1428.6 823.9,1427.4 822.9,1425.0 821.4,1419.6 820.9,1416.9 819.9,1407.5 818.2,1386.5 816.2,1356.9 815.4,1348.3 813.7,1334.9 813.2,1333.0 811.4,1330.5 810.7,1330.0 809.9,1329.9 801.9,1331.1 800.2,1331.1 798.7,1330.8 796.2,1329.8 792.4,1327.9 786.4,1322.8 780.7,1319.1 779.1,1318.6 777.6,1318.5 776.1,1318.9 774.4,1319.7 769.9,1322.7 767.6,1324.6 764.6,1327.8 761.9,1331.5 759.1,1336.7 755.4,1345.1 750.4,1359.3 747.4,1366.0 746.4,1367.9 745.6,1368.9 744.9,1369.4 744.1,1369.3 743.4,1368.9 742.4,1368.1 740.1,1365.3 738.6,1361.9 736.9,1356.3 735.6,1349.7 734.1,1339.1 731.9,1316.6 730.9,1309.4 729.6,1304.1 728.1,1299.8 726.9,1297.5 724.4,1294.2 721.9,1291.7 717.9,1288.8 715.4,1287.5 710.1,1285.9 703.1,1284.5 693.6,1283.6 692.6,1283.1 689.8,1281.3 687.1,1280.1 685.6,1279.7 669.3,1279.6 663.1,1279.9 650.3,1281.1 644.6,1282.0 641.8,1282.9 639.3,1284.3 636.3,1286.2 634.3,1287.7 632.5,1289.4 629.8,1293.0 628.8,1295.0 627.5,1298.2 624.5,1308.1 622.3,1318.8 620.5,1329.8 617.8,1350.7 616.8,1363.1 615.0,1400.9 613.5,1428.4 612.8,1438.1 612.5,1439.5 612.3,1439.9 611.0,1440.7 609.5,1441.3 608.3,1441.4 607.0,1441.1 603.0,1438.3 596.3,1434.2 592.0,1431.2 584.8,1428.0 583.5,1427.7 583.0,1428.0 582.5,1429.0 580.5,1436.1 580.0,1437.5 579.5,1438.2 571.8,1439.0 562.5,1439.3 Z" fill="#cce386" stroke="none"/>
<path d="M562.5,1438.2 567.5,1438.0 572.0,1437.4 576.3,1436.3 579.5,1434.9 580.0,1432.1 580.5,1426.7 582.3,1400.3 583.0,1392.4 583.3,1391.1 584.0,1389.7 585.0,1388.6 585.8,1388.3 586.5,1388.8 587.5,1390.7 589.5,1396.2 596.5,1413.7 599.3,1419.4 603.3,1427.0 606.5,1434.0 607.8,1435.6 608.3,1435.8 608.8,1435.8 610.0,1434.9 611.5,1432.7 611.8,1431.5 612.0,1428.0 612.5,1415.2 614.8,1333.0 616.8,1294.5 618.5,1271.3 620.5,1257.5 621.3,1254.2 622.0,1252.3 623.8,1250.4 625.8,1249.3 626.8,1249.0 631.5,1248.6 642.6,1248.2 651.8,1248.4 657.6,1249.0 660.1,1250.5 660.8,1250.6 662.8,1250.4 667.8,1249.5 670.1,1249.3 678.6,1249.4 686.6,1249.8 688.1,1250.4 691.1,1252.9 692.6,1253.7 702.8,1254.6 708.6,1255.7 716.6,1258.2 719.1,1259.4 721.6,1260.9 723.1,1262.3 726.1,1266.1 728.1,1267.7 728.9,1268.9 729.9,1271.5 731.1,1275.6 731.6,1278.0 735.1,1302.9 738.4,1318.5 739.4,1321.9 740.4,1324.1 742.6,1327.2 743.6,1328.1 744.4,1328.4 744.9,1328.4 745.4,1328.1 746.6,1326.4 756.1,1307.0 760.6,1298.8 762.9,1295.3 764.6,1293.3 767.6,1290.8 770.4,1289.0 774.9,1286.7 776.6,1286.0 778.1,1285.8 779.4,1286.0 780.9,1286.7 786.2,1290.8 790.2,1295.4 791.2,1296.2 791.9,1296.5 796.2,1297.6 800.2,1298.0 802.4,1297.8 807.9,1296.5 809.2,1296.6 810.4,1297.1 812.7,1299.0 813.2,1299.6 813.7,1300.7 814.7,1304.7 815.9,1312.0 816.9,1321.0 818.9,1348.0 821.7,1377.6 824.2,1393.8 825.2,1398.1 825.9,1399.7 827.4,1400.8 828.9,1401.3 829.7,1401.0 830.7,1399.7 831.9,1397.0 835.2,1388.7 840.4,1372.4 841.7,1369.8 843.4,1367.8 846.4,1365.4 854.0,1360.6 861.0,1356.8 869.5,1352.6 875.2,1348.8 876.5,1348.3 877.7,1348.1 878.5,1348.4 879.5,1349.5 882.2,1354.0 883.7,1357.9 887.5,1369.1 888.5,1371.3 889.5,1372.9 891.7,1375.6 894.7,1378.4 898.2,1381.1 904.7,1385.2 908.0,1388.3 910.5,1391.3 914.5,1396.7 925.5,1413.5" fill="none" stroke="#86555f" stroke-width="1.6" stroke-dasharray="1.5 1.55"/>
<path d="M562.5,1439.8 579.5,1439.8 580.3,1438.7 582.3,1432.7 583.0,1431.2 583.5,1431.0 587.5,1431.0 588.3,1431.2 589.0,1431.7 592.3,1435.1 593.8,1436.2 596.8,1437.9 603.0,1440.7 606.8,1442.7 608.3,1443.0 609.5,1442.8 611.0,1442.0 612.3,1440.7 612.5,1440.3 613.0,1437.2 614.0,1424.7 615.3,1404.6 617.0,1367.3 618.5,1349.4 620.0,1336.2 622.3,1320.4 623.5,1314.0 625.8,1306.6 627.0,1303.5 628.8,1299.9 630.8,1296.3 632.8,1293.3 634.3,1291.6 635.8,1290.2 638.3,1288.3 640.6,1286.8 643.1,1285.6 645.3,1285.1 657.6,1283.6 666.6,1281.6 670.3,1281.2 687.1,1281.3 688.6,1282.0 691.8,1284.6 693.3,1285.4 696.3,1286.2 711.4,1289.7 717.6,1291.7 719.9,1292.8 721.9,1294.1 723.1,1295.2 724.4,1296.7 726.1,1299.4 727.4,1302.1 728.9,1307.3 730.4,1314.2 731.9,1323.6 734.6,1346.8 736.9,1362.8 737.9,1368.4 738.6,1370.9 740.1,1374.0 741.4,1375.8 742.6,1376.9 743.1,1377.0 743.9,1376.9 745.1,1375.9 747.1,1373.4 748.6,1370.9 750.1,1367.0 753.4,1356.8 756.6,1348.2 759.1,1341.9 761.1,1337.9 764.1,1333.5 766.9,1330.2 768.9,1328.5 773.4,1325.4 775.4,1324.4 777.1,1323.9 778.6,1323.8 779.9,1324.2 781.7,1325.3 786.4,1328.9 792.4,1334.0 796.4,1336.2 798.9,1337.2 800.4,1337.5 802.2,1337.4 809.4,1336.0 810.4,1336.1 810.9,1336.4 812.4,1339.0 813.7,1342.3 814.9,1348.8 816.2,1357.8 816.9,1365.7 820.4,1411.8 821.7,1424.4 822.2,1427.0 823.4,1430.6 824.4,1432.6 825.4,1433.8 825.9,1434.0 826.9,1433.9 829.7,1433.2 830.7,1432.6 831.7,1431.5 835.2,1425.6 839.2,1415.9 840.9,1412.6 845.4,1405.9 847.7,1403.2 849.9,1401.0 855.2,1396.8 862.5,1392.4 874.0,1387.0 876.0,1386.3 877.7,1386.1 878.5,1386.4 879.2,1387.2 881.7,1391.0 886.7,1401.6 888.0,1403.4 890.0,1405.8 892.5,1408.2 895.7,1410.9 902.7,1415.3 905.5,1417.5 925.5,1437.8" fill="none" stroke="#86555f" stroke-width="1.6" stroke-dasharray="1.5 1.55"/>
<path d="M562.5,1439.0 566.3,1438.0 569.0,1437.5 579.5,1437.4 580.0,1436.6 580.5,1435.0 582.3,1427.3 584.3,1420.2 585.0,1418.2 585.8,1417.3 586.5,1417.4 587.5,1418.1 590.0,1420.6 591.0,1422.2 594.3,1428.7 596.0,1430.7 598.3,1432.7 603.0,1436.0 606.0,1438.4 607.5,1439.2 608.8,1439.3 610.0,1439.0 611.3,1438.4 612.3,1437.5 612.5,1437.0 613.0,1431.8 614.0,1412.5 615.5,1366.5 616.5,1343.9 617.3,1331.5 618.5,1318.1 621.0,1298.4 622.0,1292.7 624.3,1285.1 625.5,1282.1 626.8,1279.8 628.5,1277.3 630.5,1275.0 632.5,1273.2 634.5,1271.8 637.3,1270.2 640.1,1269.0 644.3,1267.6 650.8,1266.0 653.3,1265.9 658.1,1266.6 660.1,1266.7 671.3,1264.8 676.1,1264.3 681.3,1264.5 686.8,1265.2 689.8,1266.8 692.6,1269.3 693.6,1269.9 702.1,1270.6 705.3,1271.1 710.1,1272.2 715.4,1273.8 718.9,1275.4 722.1,1277.3 724.4,1279.3 726.6,1281.9 727.9,1284.0 728.9,1286.6 730.1,1291.0 731.1,1295.6 731.9,1300.9 734.1,1320.9 735.9,1333.7 737.1,1340.6 738.6,1346.0 740.1,1349.9 740.9,1351.2 742.1,1352.6 743.9,1354.0 744.6,1354.2 745.4,1353.9 746.1,1353.1 747.1,1351.3 750.4,1344.1 755.1,1330.5 758.4,1323.7 761.1,1318.9 763.9,1315.1 767.4,1311.2 769.9,1309.0 774.6,1305.9 776.4,1305.1 777.9,1304.8 779.1,1305.0 780.4,1305.6 782.9,1307.2 783.9,1308.2 787.9,1313.4 789.4,1314.9 790.9,1315.8 794.2,1317.1 795.9,1317.5 797.7,1317.7 809.9,1317.0 810.4,1317.1 811.2,1317.6 812.4,1319.4 813.4,1321.8 814.2,1326.0 815.4,1336.2 816.4,1348.1 819.4,1391.9 820.7,1402.5 821.7,1408.4 822.7,1412.5 824.7,1417.7 825.4,1419.2 826.2,1420.0 826.7,1420.3 827.2,1420.3 828.4,1419.6 829.7,1418.4 831.7,1416.0 833.2,1413.1 837.2,1403.2 841.7,1394.4 844.7,1389.6 846.9,1386.8 849.4,1384.0 853.5,1380.5 857.7,1377.7 875.5,1368.5 876.7,1368.0 877.7,1367.9 878.5,1368.2 879.2,1368.9 881.7,1372.8 885.7,1382.6 888.5,1387.4 890.7,1390.7 892.0,1392.1 893.5,1393.4 898.7,1396.8 901.5,1398.9 904.5,1401.6 907.0,1404.1 908.7,1406.1 911.0,1409.2 920.2,1423.2 923.0,1426.1 925.5,1427.9" fill="none" stroke="#000" stroke-width="2.1" stroke-linejoin="round"/>
</g>
<rect x="548.8" y="1157.4" width="391.0" height="308.8" fill="none" stroke="#2f2c68" stroke-width="1.8"/>
<line x1="544.8" y1="1455.1" x2="548.8" y2="1455.1" stroke="#2f2c68" stroke-width="1.5"/>
<text transform="translate(542.0 1455.1) rotate(-90)" text-anchor="middle" font-size="20" fill="#1e1b5a">0</text>
<line x1="544.8" y1="1415.4" x2="548.8" y2="1415.4" stroke="#2f2c68" stroke-width="1.5"/>
<text transform="translate(542.0 1415.4) rotate(-90)" text-anchor="middle" font-size="20" fill="#1e1b5a">10</text>
<line x1="544.8" y1="1375.6" x2="548.8" y2="1375.6" stroke="#2f2c68" stroke-width="1.5"/>
<text transform="translate(542.0 1375.6) rotate(-90)" text-anchor="middle" font-size="20" fill="#1e1b5a">20</text>
<line x1="544.8" y1="1335.9" x2="548.8" y2="1335.9" stroke="#2f2c68" stroke-width="1.5"/>
<text transform="translate(542.0 1335.9) rotate(-90)" text-anchor="middle" font-size="20" fill="#1e1b5a">30</text>
<line x1="544.8" y1="1296.1" x2="548.8" y2="1296.1" stroke="#2f2c68" stroke-width="1.5"/>
<text transform="translate(542.0 1296.1) rotate(-90)" text-anchor="middle" font-size="20" fill="#1e1b5a">40</text>
<line x1="544.8" y1="1256.4" x2="548.8" y2="1256.4" stroke="#2f2c68" stroke-width="1.5"/>
<text transform="translate(542.0 1256.4) rotate(-90)" text-anchor="middle" font-size="20" fill="#1e1b5a">50</text>
<line x1="544.8" y1="1216.6" x2="548.8" y2="1216.6" stroke="#2f2c68" stroke-width="1.5"/>
<text transform="translate(542.0 1216.6) rotate(-90)" text-anchor="middle" font-size="20" fill="#1e1b5a">60</text>
<line x1="544.8" y1="1176.9" x2="548.8" y2="1176.9" stroke="#2f2c68" stroke-width="1.5"/>
<text transform="translate(542.0 1176.9) rotate(-90)" text-anchor="middle" font-size="20" fill="#1e1b5a">70</text>
<line x1="580.1" y1="1466.2" x2="580.1" y2="1470.2" stroke="#2f2c68" stroke-width="1.5"/>
<text x="580.1" y="1488.4" text-anchor="middle" font-size="20" fill="#1e1b5a">500</text>
<line x1="666.5" y1="1466.2" x2="666.5" y2="1470.2" stroke="#2f2c68" stroke-width="1.5"/>
<text x="666.5" y="1488.4" text-anchor="middle" font-size="20" fill="#1e1b5a">1000</text>
<line x1="752.9" y1="1466.2" x2="752.9" y2="1470.2" stroke="#2f2c68" stroke-width="1.5"/>
<text x="752.9" y="1488.4" text-anchor="middle" font-size="20" fill="#1e1b5a">1500</text>
<line x1="839.3" y1="1466.2" x2="839.3" y2="1470.2" stroke="#2f2c68" stroke-width="1.5"/>
<text x="839.3" y="1488.4" text-anchor="middle" font-size="20" fill="#1e1b5a">2000</text>
<line x1="925.7" y1="1466.2" x2="925.7" y2="1470.2" stroke="#2f2c68" stroke-width="1.5"/>
<text x="925.7" y="1488.4" text-anchor="middle" font-size="20" fill="#1e1b5a">2500</text>
<text x="564.8" y="1184.9" font-size="19.8" font-weight="bold" font-style="italic" fill="#1e1b5a">Moderate</text>
<text x="742.8" y="1512.3" text-anchor="middle" font-size="19.2" font-weight="bold" fill="#1e1b5a">Wavelength (nm)</text>
<rect x="977.4" y="1157.4" width="391.0" height="308.8" fill="url(#bgBot)"/>
<g clip-path="url(#clip12)">
<path d="M992.3,1438.7 1001.6,1435.7 1006.8,1434.4 1009.3,1433.3 1009.8,1432.6 1010.6,1430.5 1012.8,1421.6 1013.8,1418.5 1016.8,1412.6 1017.8,1411.3 1018.6,1410.8 1019.8,1411.0 1022.3,1412.7 1023.3,1413.2 1028.8,1413.2 1030.3,1413.8 1031.8,1415.0 1033.9,1417.0 1036.4,1421.7 1037.4,1423.2 1038.1,1423.7 1038.6,1423.3 1039.1,1421.9 1039.9,1418.1 1040.9,1410.5 1042.9,1367.0 1044.1,1351.3 1045.6,1337.2 1047.6,1323.4 1050.6,1307.8 1052.9,1297.4 1054.9,1290.9 1057.9,1284.4 1063.6,1274.9 1067.6,1269.6 1071.9,1265.4 1076.2,1262.3 1081.2,1259.5 1087.9,1256.4 1096.7,1252.8 1102.4,1249.8 1104.9,1249.1 1116.0,1249.0 1121.7,1250.9 1133.2,1251.5 1142.0,1252.6 1146.0,1253.3 1149.5,1254.3 1153.2,1255.7 1155.8,1257.1 1158.3,1259.4 1159.0,1260.3 1159.5,1261.4 1160.8,1265.2 1163.3,1274.7 1165.8,1283.0 1168.3,1290.2 1169.0,1291.6 1171.5,1295.1 1172.8,1296.3 1174.0,1297.0 1175.0,1296.9 1176.0,1296.3 1177.3,1295.0 1181.0,1290.3 1184.3,1287.7 1188.3,1284.7 1196.6,1279.4 1202.1,1276.6 1204.6,1275.8 1206.6,1275.8 1209.1,1277.0 1212.6,1279.3 1217.1,1283.8 1218.8,1284.7 1227.8,1284.8 1233.9,1283.5 1235.9,1283.3 1239.1,1283.5 1242.4,1284.2 1243.4,1285.0 1244.6,1287.1 1245.9,1290.0 1246.4,1292.0 1247.1,1297.2 1251.4,1333.9 1253.6,1346.1 1254.4,1348.6 1254.9,1349.4 1255.6,1349.3 1256.6,1348.7 1259.4,1345.6 1260.6,1343.3 1264.4,1334.9 1267.4,1329.8 1268.1,1328.8 1268.9,1328.2 1269.6,1328.1 1270.6,1328.5 1277.9,1334.2 1279.2,1334.9 1280.4,1335.0 1284.9,1334.4 1296.4,1331.8 1299.2,1330.8 1304.2,1327.8 1305.2,1327.5 1306.2,1327.4 1306.9,1328.0 1307.9,1329.4 1310.7,1334.8 1314.7,1345.8 1317.0,1349.6 1318.7,1352.0 1320.2,1353.4 1321.5,1354.2 1323.5,1354.9 1328.2,1356.0 1332.5,1357.5 1335.0,1358.7 1337.0,1360.1 1339.7,1362.9 1342.7,1366.7 1347.0,1374.6 1348.2,1376.6 1351.7,1380.6 1354.5,1382.8 L1354.5,1414.7 1351.5,1412.8 1348.0,1409.8 1346.2,1407.9 1341.5,1401.8 1337.2,1397.3 1335.0,1395.2 1333.7,1394.4 1332.2,1393.9 1326.0,1392.6 1323.5,1391.7 1320.7,1390.1 1318.0,1387.5 1316.2,1385.5 1315.2,1383.8 1307.9,1366.4 1306.9,1364.6 1306.4,1364.0 1305.9,1363.8 1304.9,1363.9 1303.7,1364.3 1298.9,1366.7 1295.7,1367.5 1288.2,1368.5 1273.9,1369.7 1272.1,1370.0 1271.4,1370.3 1269.4,1372.4 1265.9,1377.6 1264.4,1380.8 1261.1,1388.7 1257.9,1395.3 1256.9,1396.4 1256.4,1396.5 1255.9,1396.3 1254.6,1395.2 1253.4,1393.3 1252.6,1390.7 1251.9,1386.8 1250.4,1376.6 1249.4,1367.9 1245.4,1321.8 1245.1,1320.5 1244.1,1317.8 1243.4,1316.4 1242.6,1315.5 1241.9,1315.1 1239.1,1314.7 1234.6,1314.6 1231.1,1315.1 1221.6,1317.3 1218.8,1317.5 1217.8,1317.1 1216.6,1316.2 1212.6,1312.1 1207.6,1307.7 1206.6,1307.1 1205.8,1306.9 1203.8,1307.1 1201.6,1308.0 1197.6,1310.1 1194.1,1312.7 1187.8,1318.4 1181.3,1325.1 1176.3,1331.7 1175.0,1332.6 1174.0,1332.7 1172.8,1331.9 1171.5,1330.5 1169.5,1327.3 1168.5,1325.3 1167.0,1319.8 1164.0,1306.1 1161.0,1294.9 1159.3,1289.7 1157.3,1287.3 1154.8,1285.5 1151.0,1283.8 1135.7,1279.6 1131.2,1278.8 1121.7,1278.0 1116.2,1276.4 1111.9,1276.5 1106.2,1277.1 1103.7,1277.6 1100.4,1278.7 1095.7,1280.6 1092.2,1282.4 1088.4,1284.7 1083.7,1288.0 1080.2,1290.8 1076.4,1294.6 1073.7,1298.5 1065.9,1312.2 1061.9,1320.3 1058.4,1329.2 1055.1,1339.4 1052.6,1349.1 1050.1,1361.4 1048.4,1372.1 1046.4,1387.7 1043.1,1420.4 1041.6,1431.8 1041.1,1434.5 1040.6,1435.8 1039.4,1436.6 1037.9,1437.2 1036.6,1437.4 1034.6,1437.2 1027.8,1435.6 1021.1,1432.9 1018.6,1432.6 1016.6,1433.1 1013.8,1434.3 1012.8,1435.1 1010.6,1437.4 1009.3,1438.2 1003.6,1439.1 992.3,1439.8 Z" fill="#b29878" stroke="none"/>
<path d="M992.3,1435.8 996.1,1434.3 1000.3,1431.6 1004.3,1428.6 1006.8,1425.7 1007.8,1424.1 1008.6,1421.9 1011.1,1410.9 1012.1,1407.5 1013.6,1404.8 1015.3,1402.1 1016.8,1400.5 1018.1,1399.7 1019.1,1399.5 1020.3,1399.8 1025.1,1402.7 1030.6,1404.3 1032.9,1405.4 1034.1,1408.0 1036.1,1414.3 1037.1,1416.9 1037.6,1417.7 1038.1,1418.1 1038.4,1418.1 1038.9,1417.5 1039.6,1415.5 1040.4,1412.1 1041.4,1405.5 1041.6,1402.1 1043.1,1354.8 1044.4,1335.2 1045.6,1321.4 1046.9,1312.0 1048.6,1302.3 1050.6,1294.1 1053.1,1286.3 1056.4,1278.5 1058.1,1275.3 1060.1,1272.1 1062.9,1268.4 1066.9,1263.6 1069.9,1260.2 1072.1,1258.1 1074.2,1256.6 1076.9,1255.1 1087.4,1250.4 1096.9,1246.7 1100.9,1245.6 1108.7,1245.1 1116.7,1245.1 1118.7,1245.5 1124.7,1247.3 1144.5,1250.0 1149.2,1250.9 1152.0,1251.9 1157.3,1255.7 1158.5,1256.3 1160.0,1256.7 1160.5,1257.2 1161.5,1259.4 1164.3,1269.4 1168.0,1280.6 1168.8,1282.1 1170.3,1283.7 1171.8,1284.9 1173.3,1285.6 1174.5,1285.5 1175.8,1284.8 1181.0,1279.7 1186.3,1275.9 1189.5,1273.8 1193.0,1272.2 1196.1,1271.0 1200.8,1269.6 1203.6,1269.1 1206.3,1269.0 1208.6,1269.8 1213.8,1273.1 1218.6,1277.2 1220.3,1278.0 1223.8,1277.7 1237.9,1275.1 1240.6,1274.9 1242.1,1275.3 1243.6,1276.4 1245.1,1278.0 1245.9,1280.6 1248.4,1299.9 1250.9,1323.2 1253.1,1333.5 1253.9,1335.8 1254.6,1337.0 1255.4,1337.2 1256.4,1336.7 1258.9,1334.1 1260.1,1332.0 1263.1,1325.0 1264.4,1322.6 1267.6,1319.1 1268.9,1318.2 1269.9,1317.7 1271.1,1317.5 1272.1,1317.9 1275.7,1321.3 1276.9,1322.1 1280.9,1323.2 1283.9,1323.6 1289.4,1323.4 1295.7,1322.7 1297.4,1322.1 1302.4,1319.4 1303.9,1319.0 1305.2,1319.1 1307.2,1320.4 1308.9,1322.1 1309.7,1323.2 1316.7,1337.7 1318.0,1339.9 1319.0,1341.3 1322.2,1343.7 1325.5,1345.2 1328.2,1345.7 1336.2,1346.4 1337.0,1346.6 1338.0,1347.3 1340.0,1349.6 1344.2,1356.0 1349.7,1365.9 1352.2,1369.1 1354.5,1371.4" fill="none" stroke="#86555f" stroke-width="1.6" stroke-dasharray="1.5 1.55"/>
<path d="M992.3,1440.3 1001.8,1440.3 1009.3,1440.6 1010.6,1440.0 1013.6,1437.6 1016.1,1436.9 1018.3,1436.6 1020.8,1436.8 1026.6,1438.7 1029.6,1439.1 1037.4,1439.3 1039.4,1438.8 1040.9,1437.9 1041.9,1434.8 1043.6,1425.7 1049.1,1383.5 1051.6,1367.6 1053.6,1356.7 1055.6,1348.5 1057.9,1340.9 1061.4,1330.8 1064.6,1322.4 1068.4,1314.2 1072.9,1306.1 1076.7,1300.7 1081.2,1295.7 1084.2,1292.9 1087.4,1290.2 1090.9,1287.5 1093.9,1285.6 1095.9,1284.5 1101.2,1282.3 1103.7,1281.5 1105.9,1281.2 1112.4,1280.9 1117.2,1281.0 1136.7,1283.4 1144.7,1284.6 1149.0,1285.4 1151.7,1286.3 1154.3,1288.0 1156.3,1289.8 1158.8,1292.7 1159.5,1293.7 1160.3,1295.4 1161.3,1299.1 1166.0,1321.4 1167.5,1327.3 1168.3,1329.4 1170.8,1334.4 1172.0,1336.2 1173.3,1337.1 1174.0,1337.2 1174.8,1336.9 1176.5,1335.6 1188.5,1320.9 1193.8,1315.8 1195.8,1314.2 1197.6,1313.1 1201.6,1311.3 1204.1,1310.4 1207.1,1309.9 1208.6,1310.4 1209.8,1311.3 1214.1,1315.2 1217.8,1319.0 1219.1,1320.0 1220.3,1320.5 1223.6,1320.3 1237.4,1317.7 1240.4,1317.5 1241.4,1317.8 1242.1,1318.4 1243.1,1319.8 1244.4,1322.3 1244.6,1323.3 1245.4,1329.5 1247.1,1351.0 1250.4,1383.8 1251.1,1388.5 1252.6,1394.6 1253.6,1397.7 1254.6,1399.4 1255.4,1399.5 1256.6,1398.8 1258.1,1397.3 1259.4,1395.6 1260.6,1392.8 1264.4,1382.1 1268.1,1374.8 1269.1,1373.4 1270.1,1372.4 1270.9,1372.2 1272.1,1372.3 1276.4,1373.4 1278.2,1373.7 1280.9,1373.6 1284.4,1373.1 1294.9,1371.2 1299.4,1370.0 1300.9,1369.3 1304.4,1366.6 1305.9,1366.1 1306.7,1366.5 1307.7,1367.9 1310.7,1374.4 1314.7,1386.8 1315.7,1389.2 1316.5,1390.4 1319.5,1392.9 1322.5,1394.5 1325.5,1395.3 1332.5,1396.3 1333.7,1396.7 1334.7,1397.3 1337.0,1399.5 1348.0,1412.7 1354.5,1419.3" fill="none" stroke="#86555f" stroke-width="1.6" stroke-dasharray="1.5 1.55"/>
<path d="M992.3,1439.3 1000.3,1437.3 1007.1,1436.3 1009.3,1435.8 1010.6,1434.6 1013.8,1429.5 1016.8,1426.3 1017.8,1425.6 1018.6,1425.3 1020.1,1425.5 1023.6,1426.9 1032.3,1429.2 1033.6,1429.9 1038.1,1433.9 1038.9,1434.2 1039.4,1434.0 1039.9,1433.0 1040.6,1430.3 1041.6,1424.2 1042.9,1399.5 1044.1,1379.8 1045.6,1359.8 1046.9,1348.3 1048.6,1337.3 1051.4,1324.1 1053.9,1314.8 1056.9,1306.0 1060.4,1297.9 1064.9,1289.9 1069.1,1284.0 1071.9,1280.8 1074.4,1278.4 1076.9,1276.3 1079.9,1274.3 1091.2,1268.2 1101.2,1263.7 1103.2,1263.1 1104.9,1262.7 1109.7,1262.8 1115.7,1263.2 1121.7,1265.1 1131.5,1265.9 1138.0,1266.9 1145.5,1268.5 1149.7,1269.7 1153.0,1270.9 1155.3,1272.4 1159.8,1276.2 1160.3,1277.0 1161.0,1279.4 1162.8,1287.6 1165.8,1300.2 1168.0,1307.4 1169.3,1310.6 1170.3,1312.5 1172.5,1315.0 1174.0,1316.0 1175.0,1315.8 1176.3,1314.8 1179.3,1310.5 1184.3,1304.2 1186.3,1301.9 1187.8,1300.5 1191.5,1297.6 1197.3,1294.1 1200.3,1292.5 1202.6,1291.7 1206.3,1290.9 1207.3,1290.9 1208.3,1291.2 1212.3,1294.4 1217.1,1299.6 1219.8,1301.3 1221.6,1301.9 1224.8,1301.8 1230.1,1300.8 1234.1,1298.9 1235.4,1298.6 1240.6,1298.5 1241.6,1298.8 1242.6,1299.6 1243.6,1300.8 1244.1,1302.1 1244.6,1304.5 1246.4,1316.6 1249.6,1348.9 1251.1,1361.1 1252.4,1368.2 1253.1,1371.3 1254.1,1373.2 1255.4,1374.7 1256.1,1375.1 1256.6,1375.2 1257.1,1374.9 1257.9,1374.0 1260.9,1368.0 1264.1,1359.9 1266.9,1354.2 1268.4,1351.9 1270.9,1349.9 1272.1,1349.4 1273.1,1349.6 1275.9,1352.5 1276.9,1353.2 1280.9,1353.7 1285.9,1353.5 1291.9,1352.8 1296.9,1351.7 1303.7,1347.8 1304.9,1347.3 1305.9,1347.1 1306.7,1347.7 1307.4,1349.1 1313.4,1363.0 1316.5,1368.5 1318.5,1371.3 1319.7,1372.3 1322.2,1373.6 1327.7,1375.4 1333.2,1376.9 1335.0,1377.6 1336.0,1378.4 1338.0,1380.6 1341.2,1385.0 1345.2,1392.5 1346.7,1394.8 1351.0,1399.4 1352.7,1400.8 1354.5,1401.8" fill="none" stroke="#000" stroke-width="2.1" stroke-linejoin="round"/>
</g>
<rect x="977.4" y="1157.4" width="391.0" height="308.8" fill="none" stroke="#2f2c68" stroke-width="1.8"/>
<line x1="973.4" y1="1455.1" x2="977.4" y2="1455.1" stroke="#2f2c68" stroke-width="1.5"/>
<text transform="translate(970.6 1455.1) rotate(-90)" text-anchor="middle" font-size="20" fill="#1e1b5a">0</text>
<line x1="973.4" y1="1415.4" x2="977.4" y2="1415.4" stroke="#2f2c68" stroke-width="1.5"/>
<text transform="translate(970.6 1415.4) rotate(-90)" text-anchor="middle" font-size="20" fill="#1e1b5a">10</text>
<line x1="973.4" y1="1375.6" x2="977.4" y2="1375.6" stroke="#2f2c68" stroke-width="1.5"/>
<text transform="translate(970.6 1375.6) rotate(-90)" text-anchor="middle" font-size="20" fill="#1e1b5a">20</text>
<line x1="973.4" y1="1335.9" x2="977.4" y2="1335.9" stroke="#2f2c68" stroke-width="1.5"/>
<text transform="translate(970.6 1335.9) rotate(-90)" text-anchor="middle" font-size="20" fill="#1e1b5a">30</text>
<line x1="973.4" y1="1296.1" x2="977.4" y2="1296.1" stroke="#2f2c68" stroke-width="1.5"/>
<text transform="translate(970.6 1296.1) rotate(-90)" text-anchor="middle" font-size="20" fill="#1e1b5a">40</text>
<line x1="973.4" y1="1256.4" x2="977.4" y2="1256.4" stroke="#2f2c68" stroke-width="1.5"/>
<text transform="translate(970.6 1256.4) rotate(-90)" text-anchor="middle" font-size="20" fill="#1e1b5a">50</text>
<line x1="973.4" y1="1216.6" x2="977.4" y2="1216.6" stroke="#2f2c68" stroke-width="1.5"/>
<text transform="translate(970.6 1216.6) rotate(-90)" text-anchor="middle" font-size="20" fill="#1e1b5a">60</text>
<line x1="973.4" y1="1176.9" x2="977.4" y2="1176.9" stroke="#2f2c68" stroke-width="1.5"/>
<text transform="translate(970.6 1176.9) rotate(-90)" text-anchor="middle" font-size="20" fill="#1e1b5a">70</text>
<line x1="1008.7" y1="1466.2" x2="1008.7" y2="1470.2" stroke="#2f2c68" stroke-width="1.5"/>
<text x="1008.7" y="1488.4" text-anchor="middle" font-size="20" fill="#1e1b5a">500</text>
<line x1="1095.1" y1="1466.2" x2="1095.1" y2="1470.2" stroke="#2f2c68" stroke-width="1.5"/>
<text x="1095.1" y="1488.4" text-anchor="middle" font-size="20" fill="#1e1b5a">1000</text>
<line x1="1181.5" y1="1466.2" x2="1181.5" y2="1470.2" stroke="#2f2c68" stroke-width="1.5"/>
<text x="1181.5" y="1488.4" text-anchor="middle" font-size="20" fill="#1e1b5a">1500</text>
<line x1="1267.9" y1="1466.2" x2="1267.9" y2="1470.2" stroke="#2f2c68" stroke-width="1.5"/>
<text x="1267.9" y="1488.4" text-anchor="middle" font-size="20" fill="#1e1b5a">2000</text>
<line x1="1354.3" y1="1466.2" x2="1354.3" y2="1470.2" stroke="#2f2c68" stroke-width="1.5"/>
<text x="1354.3" y="1488.4" text-anchor="middle" font-size="20" fill="#1e1b5a">2500</text>
<text x="993.4" y="1184.9" font-size="19.8" font-weight="bold" font-style="italic" fill="#1e1b5a">High</text>
<line x1="322.7" y1="808.1" x2="341.1" y2="808.1" stroke="#000" stroke-width="2"/>
<line x1="322.7" y1="832.0" x2="341.6" y2="832.0" stroke="#8a2f33" stroke-width="1.8" stroke-dasharray="1.6 1.55"/>
<line x1="324.5" y1="854.4" x2="340.0" y2="854.4" stroke="#70b676" stroke-width="5.8" stroke-linecap="round"/>
<text x="348.2" y="813.9" font-size="20" fill="#1e1b5a" textLength="150.0" lengthAdjust="spacingAndGlyphs">Mean reflectance</text>
<text x="348.2" y="837.0" font-size="20" fill="#1e1b5a">Min/Max</text>
<text x="348.2" y="859.8" font-size="20" fill="#1e1b5a">95% CI</text>
</svg>
</body></html>
